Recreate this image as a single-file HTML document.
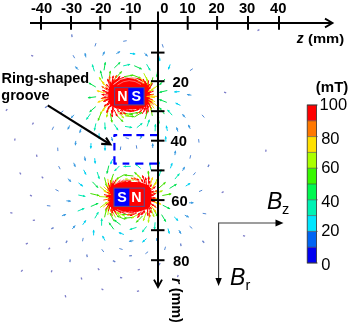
<!DOCTYPE html>
<html><head><meta charset="utf-8"><style>
html,body{margin:0;padding:0;background:#fff;}
body{width:350px;height:325px;overflow:hidden;font-family:"Liberation Sans",sans-serif;}
svg{display:block;will-change:transform;}
</style></head><body>
<svg width="350" height="325" viewBox="0 0 350 325">
<path d="M149.6,96.0 L149.6,98.1 L149.5,99.3 L149.3,100.4 L149.1,101.3 L148.8,102.2 L148.5,103.0 L148.1,103.7 L147.7,104.4 L147.1,105.0 L146.6,105.6 L145.9,106.1 L145.2,106.6 L144.5,107.1 L143.6,107.5 L142.7,107.9 L141.8,108.2 L140.7,108.5 L139.6,108.8 L138.4,109.0 L137.1,109.2 L135.7,109.3 L134.1,109.4 L132.1,109.5 L129.0,109.5 L125.8,109.5 L123.9,109.4 L122.3,109.3 L120.8,109.2 L119.5,109.0 L118.3,108.8 L117.1,108.5 L116.1,108.2 L115.1,107.9 L114.2,107.5 L113.4,107.1 L112.6,106.6 L111.9,106.1 L111.3,105.6 L110.7,105.0 L110.2,104.4 L109.7,103.7 L109.3,103.0 L109.0,102.2 L108.7,101.3 L108.5,100.4 L108.3,99.3 L108.2,98.1 L108.2,96.0 L108.2,93.2 L108.3,91.5 L108.5,90.0 L108.7,88.8 L109.0,87.6 L109.3,86.5 L109.7,85.5 L110.2,84.6 L110.7,83.7 L111.3,82.9 L111.9,82.2 L112.6,81.5 L113.4,80.9 L114.2,80.3 L115.1,79.8 L116.1,79.3 L117.1,78.9 L118.3,78.6 L119.5,78.3 L120.8,78.0 L122.3,77.8 L123.9,77.7 L125.8,77.6 L129.0,77.6 L132.1,77.6 L134.1,77.7 L135.7,77.8 L137.1,78.0 L138.4,78.3 L139.6,78.6 L140.7,78.9 L141.8,79.3 L142.7,79.8 L143.6,80.3 L144.5,80.9 L145.2,81.5 L145.9,82.2 L146.6,82.9 L147.1,83.7 L147.7,84.6 L148.1,85.5 L148.5,86.5 L148.8,87.6 L149.1,88.8 L149.3,90.0 L149.5,91.5 L149.6,93.2Z" fill="#ff0000"/>
<path d="M151.4,197.0 L151.4,199.9 L151.3,201.4 L151.2,202.5 L151.0,203.5 L150.7,204.4 L150.4,205.2 L150.1,206.0 L149.7,206.6 L149.2,207.3 L148.7,207.8 L148.1,208.3 L147.5,208.8 L146.7,209.3 L146.0,209.7 L145.1,210.0 L144.2,210.3 L143.2,210.6 L142.2,210.8 L141.0,211.0 L139.7,211.2 L138.2,211.3 L136.5,211.4 L134.3,211.5 L130.0,211.5 L125.7,211.5 L123.5,211.4 L121.8,211.3 L120.3,211.2 L119.0,211.0 L117.8,210.8 L116.8,210.6 L115.8,210.3 L114.9,210.0 L114.0,209.7 L113.3,209.3 L112.5,208.8 L111.9,208.3 L111.3,207.8 L110.8,207.3 L110.3,206.6 L109.9,206.0 L109.6,205.2 L109.3,204.4 L109.0,203.5 L108.8,202.5 L108.7,201.4 L108.6,199.9 L108.6,197.0 L108.6,194.0 L108.7,192.5 L108.8,191.3 L109.0,190.2 L109.3,189.3 L109.6,188.5 L109.9,187.7 L110.3,187.0 L110.8,186.4 L111.3,185.8 L111.9,185.3 L112.5,184.8 L113.3,184.3 L114.0,183.9 L114.9,183.5 L115.8,183.2 L116.8,182.9 L117.8,182.7 L119.0,182.5 L120.3,182.3 L121.8,182.2 L123.5,182.1 L125.7,182.0 L130.0,182.0 L134.3,182.0 L136.5,182.1 L138.2,182.2 L139.7,182.3 L141.0,182.5 L142.2,182.7 L143.2,182.9 L144.2,183.2 L145.1,183.5 L146.0,183.9 L146.7,184.3 L147.5,184.8 L148.1,185.3 L148.7,185.8 L149.2,186.4 L149.7,187.0 L150.1,187.7 L150.4,188.5 L150.7,189.3 L151.0,190.2 L151.2,191.3 L151.3,192.5 L151.4,194.0Z" fill="#ff0000"/>
<line x1="259.4" y1="29.7" x2="257.5" y2="30.7" stroke="#7c7cc8" stroke-width="1.3"/>
<line x1="265.8" y1="151.8" x2="266.0" y2="149.6" stroke="#7c7cc8" stroke-width="1.3"/>
<line x1="21.1" y1="271.6" x2="22.6" y2="270.0" stroke="#7c7cc8" stroke-width="1.3"/>
<line x1="7.3" y1="109.1" x2="5.9" y2="110.7" stroke="#7c7cc8" stroke-width="1.3"/>
<line x1="15.0" y1="138.5" x2="14.7" y2="140.7" stroke="#7c7cc8" stroke-width="1.3"/>
<line x1="243.0" y1="235.7" x2="245.1" y2="236.2" stroke="#7c7cc8" stroke-width="1.3"/>
<line x1="10.3" y1="212.7" x2="12.4" y2="213.2" stroke="#7c7cc8" stroke-width="1.3"/>
<line x1="65.8" y1="297.4" x2="65.2" y2="295.2" stroke="#7c7cc8" stroke-width="1.3"/>
<line x1="25.8" y1="244.2" x2="27.8" y2="243.2" stroke="#7c7cc8" stroke-width="1.3"/>
<line x1="19.7" y1="172.5" x2="20.9" y2="174.4" stroke="#7c7cc8" stroke-width="1.3"/>
<line x1="51.3" y1="272.3" x2="52.0" y2="270.2" stroke="#7c7cc8" stroke-width="1.3"/>
<line x1="33.2" y1="56.2" x2="31.2" y2="55.3" stroke="#7c7cc8" stroke-width="1.3"/>
<line x1="139.1" y1="290.8" x2="136.9" y2="291.3" stroke="#7c7cc8" stroke-width="1.3"/>
<line x1="103.3" y1="290.0" x2="101.5" y2="288.7" stroke="#7c7cc8" stroke-width="1.3"/>
<line x1="36.5" y1="154.7" x2="37.0" y2="156.8" stroke="#7c7cc8" stroke-width="1.3"/>
<line x1="30.0" y1="195.2" x2="31.9" y2="196.2" stroke="#7c7cc8" stroke-width="1.3"/>
<line x1="33.5" y1="122.6" x2="32.4" y2="124.5" stroke="#7c7cc8" stroke-width="1.3"/>
<line x1="32.8" y1="220.3" x2="35.0" y2="220.1" stroke="#7c7cc8" stroke-width="1.3"/>
<line x1="226.2" y1="92.8" x2="224.1" y2="92.1" stroke="#7c7cc8" stroke-width="1.3"/>
<line x1="81.9" y1="279.6" x2="81.1" y2="277.6" stroke="#7c7cc8" stroke-width="1.3"/>
<line x1="221.7" y1="192.7" x2="223.6" y2="191.6" stroke="#7c7cc8" stroke-width="1.3"/>
<line x1="48.5" y1="249.4" x2="50.0" y2="247.8" stroke="#7c7cc8" stroke-width="1.3"/>
<line x1="178.2" y1="275.0" x2="177.5" y2="277.1" stroke="#7c7cc8" stroke-width="1.3"/>
<line x1="41.7" y1="176.6" x2="43.2" y2="178.3" stroke="#7c7cc8" stroke-width="1.3"/>
<line x1="122.2" y1="277.9" x2="120.0" y2="277.5" stroke="#7c7cc8" stroke-width="1.3"/>
<line x1="69.9" y1="262.1" x2="70.2" y2="259.4" stroke="#6680cc" stroke-width="1.3"/>
<line x1="57.7" y1="147.6" x2="57.9" y2="151.1" stroke="#5288d6" stroke-width="1.0"/>
<line x1="202.4" y1="240.7" x2="204.2" y2="242.7" stroke="#6680cc" stroke-width="1.3"/>
<line x1="47.2" y1="106.2" x2="45.0" y2="107.8" stroke="#6680cc" stroke-width="1.3"/>
<line x1="207.9" y1="167.0" x2="209.1" y2="164.6" stroke="#6680cc" stroke-width="1.3"/>
<line x1="72.1" y1="37.1" x2="71.7" y2="34.4" stroke="#6680cc" stroke-width="1.3"/>
<line x1="46.9" y1="205.6" x2="50.4" y2="206.0" stroke="#5288d6" stroke-width="1.0"/>
<line x1="199.0" y1="142.6" x2="198.6" y2="139.1" stroke="#5288d6" stroke-width="1.0"/>
<line x1="51.3" y1="228.9" x2="53.6" y2="227.6" stroke="#6680cc" stroke-width="1.3"/>
<line x1="53.6" y1="126.7" x2="52.1" y2="129.9" stroke="#5288d6" stroke-width="1.0"/>
<line x1="99.3" y1="270.0" x2="97.9" y2="268.3" stroke="#7c7cc8" stroke-width="1.3"/>
<line x1="139.8" y1="269.3" x2="137.7" y2="270.0" stroke="#7c7cc8" stroke-width="1.3"/>
<line x1="204.3" y1="117.5" x2="202.0" y2="114.8" stroke="#5288d6" stroke-width="1.0"/>
<line x1="202.7" y1="213.3" x2="206.2" y2="213.9" stroke="#5288d6" stroke-width="1.0"/>
<line x1="65.9" y1="242.9" x2="67.2" y2="240.6" stroke="#6680cc" stroke-width="1.3"/>
<line x1="160.2" y1="263.2" x2="158.6" y2="265.3" stroke="#6680cc" stroke-width="1.3"/>
<line x1="58.6" y1="166.1" x2="60.2" y2="169.2" stroke="#5288d6" stroke-width="1.0"/>
<line x1="55.5" y1="189.5" x2="58.6" y2="191.1" stroke="#5288d6" stroke-width="1.0"/>
<line x1="87.3" y1="257.1" x2="86.7" y2="254.5" stroke="#6680cc" stroke-width="1.3"/>
<line x1="199.0" y1="191.6" x2="202.2" y2="190.2" stroke="#5288d6" stroke-width="1.0"/>
<line x1="115.3" y1="261.9" x2="112.9" y2="260.6" stroke="#6680cc" stroke-width="1.3"/>
<line x1="189.9" y1="158.6" x2="190.7" y2="155.2" stroke="#5288d6" stroke-width="1.0"/>
<line x1="75.8" y1="140.9" x2="75.4" y2="145.1" stroke="#3a9ae0" stroke-width="1.0"/>
<path d="M75.3,145.7L74.4,142.8L76.8,143.0Z" fill="#3a9ae0"/>
<line x1="180.5" y1="243.5" x2="181.1" y2="246.1" stroke="#6680cc" stroke-width="1.3"/>
<line x1="63.3" y1="110.8" x2="60.6" y2="113.0" stroke="#5288d6" stroke-width="1.0"/>
<line x1="61.9" y1="215.8" x2="65.8" y2="214.5" stroke="#3a9ae0" stroke-width="1.0"/>
<path d="M66.4,214.3L64.1,216.3L63.4,214.0Z" fill="#3a9ae0"/>
<line x1="193.3" y1="175.1" x2="195.5" y2="172.4" stroke="#5288d6" stroke-width="1.0"/>
<line x1="192.8" y1="68.7" x2="189.9" y2="70.7" stroke="#5288d6" stroke-width="1.0"/>
<line x1="190.2" y1="128.8" x2="188.5" y2="125.0" stroke="#3a9ae0" stroke-width="1.0"/>
<path d="M188.2,124.5L190.5,126.5L188.3,127.5Z" fill="#3a9ae0"/>
<line x1="189.6" y1="226.2" x2="192.3" y2="228.5" stroke="#5288d6" stroke-width="1.0"/>
<line x1="74.7" y1="58.2" x2="73.0" y2="55.2" stroke="#5288d6" stroke-width="1.0"/>
<line x1="69.7" y1="125.4" x2="67.9" y2="129.2" stroke="#3a9ae0" stroke-width="1.0"/>
<path d="M67.6,129.7L67.8,126.7L69.9,127.7Z" fill="#3a9ae0"/>
<line x1="131.9" y1="255.7" x2="129.2" y2="255.9" stroke="#6680cc" stroke-width="1.3"/>
<line x1="73.7" y1="162.8" x2="75.2" y2="166.7" stroke="#3a9ae0" stroke-width="1.0"/>
<path d="M75.5,167.2L73.3,165.0L75.5,164.2Z" fill="#3a9ae0"/>
<line x1="123.2" y1="41.3" x2="126.7" y2="40.7" stroke="#5288d6" stroke-width="1.0"/>
<line x1="165.5" y1="246.7" x2="164.6" y2="250.0" stroke="#5288d6" stroke-width="1.0"/>
<line x1="66.4" y1="200.8" x2="70.6" y2="201.2" stroke="#3a9ae0" stroke-width="1.0"/>
<path d="M71.2,201.2L68.3,202.2L68.5,199.8Z" fill="#3a9ae0"/>
<line x1="94.9" y1="46.4" x2="96.0" y2="43.1" stroke="#5288d6" stroke-width="1.0"/>
<line x1="72.3" y1="228.9" x2="75.1" y2="225.7" stroke="#3a9ae0" stroke-width="1.0"/>
<path d="M75.5,225.3L74.5,228.2L72.7,226.6Z" fill="#3a9ae0"/>
<line x1="91.0" y1="143.1" x2="90.8" y2="148.3" stroke="#00d0f0" stroke-width="1.0"/>
<path d="M90.8,148.9L89.7,146.0L92.1,146.1Z" fill="#00d0f0"/>
<line x1="162.2" y1="44.2" x2="163.3" y2="47.5" stroke="#5288d6" stroke-width="1.0"/>
<line x1="82.5" y1="241.3" x2="83.2" y2="237.9" stroke="#5288d6" stroke-width="1.0"/>
<line x1="191.4" y1="95.2" x2="187.2" y2="94.5" stroke="#3a9ae0" stroke-width="1.0"/>
<path d="M186.7,94.4L189.6,93.7L189.2,96.1Z" fill="#3a9ae0"/>
<line x1="189.1" y1="202.8" x2="193.3" y2="202.8" stroke="#3a9ae0" stroke-width="1.0"/>
<path d="M193.9,202.8L191.1,204.0L191.1,201.6Z" fill="#3a9ae0"/>
<line x1="103.8" y1="252.0" x2="101.7" y2="249.2" stroke="#5288d6" stroke-width="1.0"/>
<line x1="174.9" y1="155.1" x2="175.4" y2="150.9" stroke="#3a9ae0" stroke-width="1.0"/>
<path d="M175.5,150.3L176.3,153.3L174.0,153.0Z" fill="#3a9ae0"/>
<line x1="67.8" y1="178.6" x2="70.8" y2="181.5" stroke="#3a9ae0" stroke-width="1.0"/>
<path d="M71.3,181.9L68.4,180.9L70.1,179.1Z" fill="#3a9ae0"/>
<line x1="148.1" y1="251.7" x2="145.4" y2="253.8" stroke="#5288d6" stroke-width="1.0"/>
<line x1="182.5" y1="170.8" x2="184.5" y2="167.2" stroke="#3a9ae0" stroke-width="1.0"/>
<path d="M184.8,166.6L184.5,169.7L182.4,168.5Z" fill="#3a9ae0"/>
<line x1="178.8" y1="230.0" x2="180.9" y2="233.6" stroke="#3a9ae0" stroke-width="1.0"/>
<path d="M181.2,234.1L178.7,232.3L180.8,231.1Z" fill="#3a9ae0"/>
<line x1="185.7" y1="186.1" x2="190.1" y2="183.3" stroke="#00d0f0" stroke-width="1.0"/>
<path d="M190.6,183.0L188.9,185.5L187.6,183.5Z" fill="#00d0f0"/>
<line x1="122.6" y1="249.5" x2="119.3" y2="248.5" stroke="#5288d6" stroke-width="1.0"/>
<line x1="184.8" y1="215.2" x2="188.6" y2="217.1" stroke="#3a9ae0" stroke-width="1.0"/>
<path d="M189.1,217.3L186.1,217.2L187.2,215.0Z" fill="#3a9ae0"/>
<line x1="74.0" y1="114.8" x2="71.2" y2="117.9" stroke="#3a9ae0" stroke-width="1.0"/>
<path d="M70.8,118.3L71.8,115.5L73.5,117.1Z" fill="#3a9ae0"/>
<line x1="85.9" y1="57.4" x2="85.1" y2="53.3" stroke="#3a9ae0" stroke-width="1.0"/>
<path d="M84.9,52.7L86.7,55.2L84.3,55.7Z" fill="#3a9ae0"/>
<line x1="105.0" y1="145.2" x2="105.0" y2="150.4" stroke="#00d0f0" stroke-width="1.0"/>
<path d="M105.0,151.0L103.8,148.1L106.2,148.2Z" fill="#00d0f0"/>
<line x1="152.7" y1="147.9" x2="152.7" y2="143.7" stroke="#3a9ae0" stroke-width="1.0"/>
<path d="M152.7,143.1L153.9,145.9L151.5,145.9Z" fill="#3a9ae0"/>
<line x1="185.3" y1="117.6" x2="182.6" y2="114.4" stroke="#3a9ae0" stroke-width="1.0"/>
<path d="M182.2,114.0L184.9,115.3L183.1,116.9Z" fill="#3a9ae0"/>
<line x1="177.9" y1="131.6" x2="176.6" y2="127.6" stroke="#3a9ae0" stroke-width="1.0"/>
<path d="M176.5,127.0L178.5,129.3L176.2,130.1Z" fill="#3a9ae0"/>
<line x1="84.6" y1="156.5" x2="85.3" y2="160.7" stroke="#3a9ae0" stroke-width="1.0"/>
<path d="M85.4,161.3L83.7,158.7L86.1,158.3Z" fill="#3a9ae0"/>
<line x1="81.1" y1="128.7" x2="79.8" y2="132.7" stroke="#3a9ae0" stroke-width="1.0"/>
<path d="M79.6,133.2L79.3,130.2L81.6,131.0Z" fill="#3a9ae0"/>
<line x1="165.9" y1="141.7" x2="165.6" y2="136.5" stroke="#00d0f0" stroke-width="1.0"/>
<path d="M165.6,135.9L167.0,138.6L164.6,138.8Z" fill="#00d0f0"/>
<line x1="78.3" y1="69.8" x2="75.5" y2="66.7" stroke="#3a9ae0" stroke-width="1.0"/>
<path d="M75.1,66.3L77.8,67.5L76.1,69.2Z" fill="#3a9ae0"/>
<line x1="120.8" y1="146.5" x2="120.3" y2="150.0" stroke="#5288d6" stroke-width="1.0"/>
<line x1="136.8" y1="148.7" x2="136.3" y2="145.3" stroke="#5288d6" stroke-width="1.0"/>
<line x1="180.4" y1="105.4" x2="175.7" y2="103.1" stroke="#00d0f0" stroke-width="1.0"/>
<path d="M175.2,102.8L178.2,103.0L177.1,105.1Z" fill="#00d0f0"/>
<line x1="102.7" y1="55.6" x2="104.4" y2="51.8" stroke="#3a9ae0" stroke-width="1.0"/>
<path d="M104.7,51.2L104.6,54.3L102.4,53.3Z" fill="#3a9ae0"/>
<line x1="82.7" y1="224.8" x2="85.8" y2="220.5" stroke="#00d0f0" stroke-width="1.0"/>
<path d="M86.1,220.1L85.4,223.0L83.5,221.6Z" fill="#00d0f0"/>
<line x1="77.7" y1="211.1" x2="84.2" y2="208.4" stroke="#00e8b0" stroke-width="1.0"/>
<path d="M84.7,208.2L82.6,210.4L81.7,208.1Z" fill="#00e8b0"/>
<line x1="133.4" y1="240.7" x2="129.2" y2="241.3" stroke="#3a9ae0" stroke-width="1.0"/>
<path d="M128.6,241.4L131.2,239.8L131.6,242.2Z" fill="#3a9ae0"/>
<line x1="78.5" y1="182.9" x2="82.7" y2="186.1" stroke="#00d0f0" stroke-width="1.0"/>
<path d="M83.2,186.4L80.2,185.7L81.7,183.8Z" fill="#00d0f0"/>
<line x1="116.3" y1="53.7" x2="119.9" y2="51.6" stroke="#3a9ae0" stroke-width="1.0"/>
<path d="M120.4,51.3L118.6,53.7L117.4,51.7Z" fill="#3a9ae0"/>
<line x1="105.0" y1="240.6" x2="102.6" y2="236.0" stroke="#00d0f0" stroke-width="1.0"/>
<path d="M102.3,235.5L104.7,237.4L102.6,238.5Z" fill="#00d0f0"/>
<line x1="94.7" y1="158.2" x2="95.2" y2="163.3" stroke="#00d0f0" stroke-width="1.0"/>
<path d="M95.2,163.9L93.8,161.3L96.2,161.1Z" fill="#00d0f0"/>
<line x1="170.4" y1="168.3" x2="172.1" y2="163.3" stroke="#00d0f0" stroke-width="1.0"/>
<path d="M172.3,162.8L172.5,165.8L170.3,165.0Z" fill="#00d0f0"/>
<line x1="83.6" y1="169.8" x2="86.0" y2="174.4" stroke="#00d0f0" stroke-width="1.0"/>
<path d="M86.2,174.9L83.9,173.0L86.0,171.9Z" fill="#00d0f0"/>
<line x1="93.6" y1="235.4" x2="93.7" y2="230.2" stroke="#00d0f0" stroke-width="1.0"/>
<path d="M93.7,229.6L94.8,232.4L92.4,232.3Z" fill="#00d0f0"/>
<line x1="157.8" y1="236.6" x2="156.5" y2="240.6" stroke="#3a9ae0" stroke-width="1.0"/>
<path d="M156.3,241.1L156.0,238.1L158.3,238.9Z" fill="#3a9ae0"/>
<line x1="179.6" y1="91.6" x2="174.4" y2="91.9" stroke="#00d0f0" stroke-width="1.0"/>
<path d="M173.8,91.9L176.5,90.6L176.7,93.0Z" fill="#00d0f0"/>
<line x1="129.9" y1="53.4" x2="135.1" y2="54.0" stroke="#00d0f0" stroke-width="1.0"/>
<path d="M135.7,54.0L132.8,54.9L133.0,52.5Z" fill="#00d0f0"/>
<line x1="168.0" y1="228.5" x2="169.3" y2="233.5" stroke="#00d0f0" stroke-width="1.0"/>
<path d="M169.4,234.1L167.6,231.7L169.9,231.1Z" fill="#00d0f0"/>
<line x1="158.7" y1="55.7" x2="159.9" y2="60.8" stroke="#00d0f0" stroke-width="1.0"/>
<path d="M160.0,61.4L158.2,58.9L160.5,58.4Z" fill="#00d0f0"/>
<line x1="99.1" y1="133.3" x2="99.0" y2="138.5" stroke="#00d0f0" stroke-width="1.0"/>
<path d="M99.0,139.1L97.9,136.3L100.3,136.3Z" fill="#00d0f0"/>
<line x1="174.9" y1="179.1" x2="179.3" y2="173.7" stroke="#00e8b0" stroke-width="1.0"/>
<path d="M179.7,173.3L178.9,176.2L177.0,174.7Z" fill="#00e8b0"/>
<line x1="167.4" y1="130.9" x2="166.3" y2="125.8" stroke="#00d0f0" stroke-width="1.0"/>
<path d="M166.1,125.3L167.9,127.7L165.6,128.2Z" fill="#00d0f0"/>
<line x1="78.3" y1="195.0" x2="85.2" y2="196.4" stroke="#00e8b0" stroke-width="1.0"/>
<path d="M85.8,196.5L82.8,197.1L83.2,194.8Z" fill="#00e8b0"/>
<line x1="170.2" y1="64.4" x2="168.4" y2="69.2" stroke="#00d0f0" stroke-width="1.0"/>
<path d="M168.2,69.8L168.0,66.8L170.3,67.6Z" fill="#00d0f0"/>
<line x1="144.4" y1="53.2" x2="147.5" y2="56.0" stroke="#3a9ae0" stroke-width="1.0"/>
<path d="M147.9,56.4L145.0,55.4L146.6,53.6Z" fill="#3a9ae0"/>
<line x1="111.5" y1="137.0" x2="112.6" y2="141.0" stroke="#3a9ae0" stroke-width="1.0"/>
<path d="M112.7,141.6L110.8,139.2L113.2,138.6Z" fill="#3a9ae0"/>
<line x1="146.5" y1="238.6" x2="142.6" y2="242.1" stroke="#00d0f0" stroke-width="1.0"/>
<path d="M142.1,242.5L143.4,239.7L145.0,241.5Z" fill="#00d0f0"/>
<line x1="125.6" y1="137.7" x2="128.9" y2="138.8" stroke="#5288d6" stroke-width="1.0"/>
<line x1="174.2" y1="216.9" x2="178.0" y2="220.5" stroke="#00d0f0" stroke-width="1.0"/>
<path d="M178.4,220.9L175.6,219.9L177.2,218.1Z" fill="#00d0f0"/>
<line x1="140.0" y1="139.1" x2="142.0" y2="135.4" stroke="#3a9ae0" stroke-width="1.0"/>
<path d="M142.3,134.9L142.0,137.9L139.9,136.7Z" fill="#3a9ae0"/>
<line x1="172.2" y1="115.2" x2="167.6" y2="110.0" stroke="#00e8b0" stroke-width="1.0"/>
<path d="M167.2,109.5L170.0,110.8L168.2,112.4Z" fill="#00e8b0"/>
<line x1="95.9" y1="123.4" x2="94.4" y2="130.3" stroke="#00e8b0" stroke-width="1.0"/>
<path d="M94.3,130.9L93.7,127.9L96.1,128.4Z" fill="#00e8b0"/>
<line x1="123.9" y1="234.5" x2="119.0" y2="232.7" stroke="#00d0f0" stroke-width="1.0"/>
<path d="M118.4,232.5L121.4,232.3L120.6,234.6Z" fill="#00d0f0"/>
<line x1="112.6" y1="159.2" x2="110.6" y2="164.0" stroke="#00d0f0" stroke-width="1.0"/>
<path d="M110.4,164.6L110.3,161.6L112.5,162.5Z" fill="#00d0f0"/>
<line x1="94.4" y1="71.3" x2="92.3" y2="64.7" stroke="#00e8b0" stroke-width="1.0"/>
<path d="M92.1,64.1L94.1,66.4L91.8,67.1Z" fill="#00e8b0"/>
<line x1="169.6" y1="188.4" x2="176.4" y2="184.2" stroke="#00e050" stroke-width="1.0"/>
<path d="M176.9,183.9L175.2,186.4L173.9,184.4Z" fill="#00e050"/>
<line x1="90.5" y1="113.7" x2="86.4" y2="119.4" stroke="#00e8b0" stroke-width="1.0"/>
<path d="M86.1,119.9L86.8,116.9L88.7,118.3Z" fill="#00e8b0"/>
<line x1="158.7" y1="167.0" x2="159.1" y2="161.9" stroke="#00d0f0" stroke-width="1.0"/>
<path d="M159.1,161.3L160.1,164.1L157.7,164.0Z" fill="#00d0f0"/>
<line x1="155.1" y1="131.3" x2="155.4" y2="124.4" stroke="#00e8b0" stroke-width="1.0"/>
<path d="M155.4,123.8L156.5,126.6L154.1,126.5Z" fill="#00e8b0"/>
<line x1="123.2" y1="65.9" x2="130.0" y2="64.3" stroke="#00e8b0" stroke-width="1.0"/>
<path d="M130.6,64.2L128.1,66.0L127.6,63.7Z" fill="#00e8b0"/>
<line x1="159.4" y1="123.4" x2="157.7" y2="115.6" stroke="#00e050" stroke-width="1.0"/>
<path d="M157.6,115.0L159.4,117.5L157.0,118.0Z" fill="#00e050"/>
<line x1="104.0" y1="70.3" x2="105.3" y2="62.4" stroke="#00e050" stroke-width="1.0"/>
<path d="M105.4,61.8L106.1,64.8L103.8,64.4Z" fill="#00e050"/>
<line x1="125.0" y1="126.4" x2="131.9" y2="127.5" stroke="#00e8b0" stroke-width="1.0"/>
<path d="M132.5,127.6L129.5,128.4L129.9,126.0Z" fill="#00e8b0"/>
<line x1="104.8" y1="122.5" x2="105.2" y2="129.5" stroke="#00e8b0" stroke-width="1.0"/>
<path d="M105.3,130.1L103.9,127.3L106.3,127.2Z" fill="#00e8b0"/>
<line x1="130.7" y1="166.3" x2="123.7" y2="166.5" stroke="#00e8b0" stroke-width="1.0"/>
<path d="M123.1,166.5L125.9,165.2L126.0,167.6Z" fill="#00e8b0"/>
<line x1="146.6" y1="226.4" x2="142.3" y2="231.9" stroke="#00e8b0" stroke-width="1.0"/>
<path d="M141.9,232.4L142.7,229.4L144.6,230.9Z" fill="#00e8b0"/>
<line x1="146.6" y1="64.2" x2="150.1" y2="70.3" stroke="#00e8b0" stroke-width="1.0"/>
<path d="M150.4,70.8L148.0,69.0L150.0,67.8Z" fill="#00e8b0"/>
<line x1="136.5" y1="227.4" x2="129.8" y2="229.5" stroke="#00e8b0" stroke-width="1.0"/>
<path d="M129.3,229.7L131.6,227.7L132.3,230.0Z" fill="#00e8b0"/>
<line x1="136.8" y1="127.7" x2="142.2" y2="123.3" stroke="#00e8b0" stroke-width="1.0"/>
<path d="M142.7,122.9L141.3,125.6L139.7,123.7Z" fill="#00e8b0"/>
<line x1="97.2" y1="172.0" x2="99.3" y2="178.7" stroke="#00e8b0" stroke-width="1.0"/>
<path d="M99.4,179.3L97.5,177.0L99.8,176.3Z" fill="#00e8b0"/>
<line x1="161.6" y1="214.6" x2="165.7" y2="221.5" stroke="#00e050" stroke-width="1.0"/>
<path d="M166.0,222.0L163.5,220.2L165.6,219.0Z" fill="#00e050"/>
<line x1="114.3" y1="67.9" x2="120.1" y2="62.4" stroke="#00e050" stroke-width="1.0"/>
<path d="M120.5,62.0L119.3,64.8L117.7,63.0Z" fill="#00e050"/>
<line x1="101.6" y1="225.7" x2="101.7" y2="218.7" stroke="#00e8b0" stroke-width="1.0"/>
<path d="M101.7,218.1L102.9,220.9L100.5,220.9Z" fill="#00e8b0"/>
<line x1="114.1" y1="124.3" x2="118.0" y2="130.1" stroke="#00e8b0" stroke-width="1.0"/>
<path d="M118.3,130.6L115.8,128.9L117.8,127.6Z" fill="#00e8b0"/>
<line x1="151.0" y1="170.1" x2="149.6" y2="163.2" stroke="#00e8b0" stroke-width="1.0"/>
<path d="M149.5,162.6L151.2,165.1L148.9,165.6Z" fill="#00e8b0"/>
<line x1="113.8" y1="229.3" x2="109.1" y2="222.8" stroke="#00e050" stroke-width="1.0"/>
<path d="M108.7,222.3L111.3,223.9L109.4,225.3Z" fill="#00e050"/>
<line x1="140.7" y1="168.5" x2="135.4" y2="163.9" stroke="#00e8b0" stroke-width="1.0"/>
<path d="M135.0,163.5L137.9,164.4L136.3,166.2Z" fill="#00e8b0"/>
<line x1="108.8" y1="165.6" x2="107.0" y2="173.4" stroke="#00e050" stroke-width="1.0"/>
<path d="M106.8,173.9L106.3,170.9L108.6,171.5Z" fill="#00e050"/>
<line x1="155.1" y1="222.3" x2="154.5" y2="229.3" stroke="#00e8b0" stroke-width="1.0"/>
<path d="M154.4,229.9L153.5,227.0L155.9,227.2Z" fill="#00e8b0"/>
<line x1="157.7" y1="68.9" x2="156.9" y2="76.9" stroke="#00e050" stroke-width="1.0"/>
<path d="M156.8,77.5L155.9,74.6L158.3,74.8Z" fill="#00e050"/>
<line x1="90.8" y1="206.5" x2="98.1" y2="203.3" stroke="#00e050" stroke-width="1.0"/>
<path d="M98.7,203.0L96.6,205.2L95.7,203.0Z" fill="#00e050"/>
<line x1="167.3" y1="90.5" x2="159.5" y2="92.3" stroke="#00e050" stroke-width="1.0"/>
<path d="M158.9,92.5L161.4,90.7L161.9,93.0Z" fill="#00e050"/>
<line x1="90.4" y1="193.5" x2="99.2" y2="195.6" stroke="#40e000" stroke-width="1.0"/>
<path d="M99.8,195.7L96.8,196.3L97.3,193.9Z" fill="#40e000"/>
<line x1="159.1" y1="176.2" x2="161.1" y2="169.5" stroke="#00e8b0" stroke-width="1.0"/>
<path d="M161.3,168.9L161.6,172.0L159.3,171.3Z" fill="#00e8b0"/>
<line x1="119.5" y1="165.9" x2="114.6" y2="170.9" stroke="#00e8b0" stroke-width="1.0"/>
<path d="M114.2,171.3L115.3,168.5L117.0,170.1Z" fill="#00e8b0"/>
<line x1="94.8" y1="218.3" x2="98.3" y2="212.3" stroke="#00e8b0" stroke-width="1.0"/>
<path d="M98.6,211.8L98.2,214.8L96.1,213.6Z" fill="#00e8b0"/>
<line x1="134.2" y1="65.7" x2="141.5" y2="69.0" stroke="#00e050" stroke-width="1.0"/>
<path d="M142.1,69.3L139.0,69.2L140.0,67.0Z" fill="#00e050"/>
<line x1="95.8" y1="87.0" x2="88.9" y2="83.0" stroke="#00e050" stroke-width="1.0"/>
<path d="M88.4,82.7L91.4,83.1L90.2,85.1Z" fill="#00e050"/>
<line x1="95.8" y1="106.6" x2="89.7" y2="111.8" stroke="#00e050" stroke-width="1.0"/>
<path d="M89.3,112.2L90.6,109.5L92.2,111.3Z" fill="#00e050"/>
<line x1="162.3" y1="195.5" x2="171.1" y2="193.9" stroke="#40e000" stroke-width="1.0"/>
<path d="M171.7,193.8L169.2,195.5L168.7,193.1Z" fill="#40e000"/>
<line x1="96.1" y1="96.8" x2="88.2" y2="97.8" stroke="#00e050" stroke-width="1.0"/>
<path d="M87.6,97.8L90.2,96.3L90.5,98.7Z" fill="#00e050"/>
<line x1="162.7" y1="205.2" x2="169.8" y2="208.8" stroke="#00e050" stroke-width="1.0"/>
<path d="M170.4,209.1L167.3,208.9L168.4,206.7Z" fill="#00e050"/>
<line x1="166.8" y1="102.4" x2="159.4" y2="99.5" stroke="#00e050" stroke-width="1.0"/>
<path d="M158.8,99.3L161.9,99.2L161.0,101.4Z" fill="#00e050"/>
<line x1="165.0" y1="79.0" x2="159.6" y2="84.9" stroke="#00e050" stroke-width="1.0"/>
<path d="M159.2,85.3L160.2,82.4L162.0,84.1Z" fill="#00e050"/>
<line x1="92.4" y1="181.8" x2="97.9" y2="187.6" stroke="#00e050" stroke-width="1.0"/>
<path d="M98.3,188.0L95.5,186.8L97.3,185.2Z" fill="#00e050"/>
<line x1="164.4" y1="114.1" x2="159.6" y2="107.7" stroke="#00e050" stroke-width="1.0"/>
<path d="M159.2,107.2L161.9,108.7L159.9,110.1Z" fill="#00e050"/>
<line x1="147.1" y1="126.5" x2="149.3" y2="119.8" stroke="#00e8b0" stroke-width="1.0"/>
<path d="M149.5,119.3L149.8,122.3L147.5,121.5Z" fill="#00e8b0"/>
<line x1="120.6" y1="224.8" x2="114.2" y2="220.0" stroke="#00e050" stroke-width="1.0"/>
<path d="M113.7,219.6L116.6,220.3L115.2,222.2Z" fill="#00e050"/>
<line x1="101.5" y1="112.1" x2="98.1" y2="120.4" stroke="#40e000" stroke-width="1.0"/>
<path d="M97.9,121.0L97.8,118.0L100.0,118.9Z" fill="#40e000"/>
<line x1="102.5" y1="78.5" x2="100.4" y2="70.8" stroke="#00e050" stroke-width="1.0"/>
<path d="M100.2,70.2L102.1,72.6L99.8,73.2Z" fill="#00e050"/>
<line x1="158.6" y1="188.3" x2="165.4" y2="182.4" stroke="#40e000" stroke-width="1.0"/>
<path d="M165.9,182.0L164.6,184.8L163.0,183.0Z" fill="#40e000"/>
<line x1="104.1" y1="85.0" x2="99.3" y2="77.4" stroke="#b4f000" stroke-width="1.0"/>
<path d="M98.9,76.9L101.5,78.6L99.5,79.9Z" fill="#b4f000"/>
<line x1="114.1" y1="221.3" x2="110.0" y2="213.2" stroke="#40e000" stroke-width="1.0"/>
<path d="M109.8,212.7L112.1,214.6L110.0,215.7Z" fill="#40e000"/>
<line x1="133.4" y1="176.0" x2="124.4" y2="175.0" stroke="#40e000" stroke-width="1.0"/>
<path d="M123.8,174.9L126.8,174.1L126.5,176.4Z" fill="#40e000"/>
<line x1="116.6" y1="115.2" x2="122.9" y2="121.6" stroke="#40e000" stroke-width="1.0"/>
<path d="M123.3,122.1L120.5,120.9L122.2,119.2Z" fill="#40e000"/>
<line x1="154.0" y1="193.9" x2="162.5" y2="190.8" stroke="#b4f000" stroke-width="1.0"/>
<path d="M163.0,190.6L160.8,192.7L160.0,190.4Z" fill="#b4f000"/>
<line x1="99.0" y1="196.5" x2="108.0" y2="197.1" stroke="#b4f000" stroke-width="1.0"/>
<path d="M108.6,197.2L105.7,198.2L105.9,195.8Z" fill="#b4f000"/>
<line x1="124.4" y1="174.6" x2="116.6" y2="179.0" stroke="#40e000" stroke-width="1.0"/>
<path d="M116.1,179.3L117.9,176.9L119.1,179.0Z" fill="#40e000"/>
<line x1="158.8" y1="96.5" x2="150.3" y2="96.1" stroke="#ffd400" stroke-width="1.0"/>
<path d="M149.7,96.1L152.6,95.0L152.5,97.4Z" fill="#ffd400"/>
<line x1="99.8" y1="186.5" x2="106.6" y2="192.3" stroke="#b4f000" stroke-width="1.0"/>
<path d="M107.1,192.7L104.2,191.8L105.7,190.0Z" fill="#b4f000"/>
<line x1="104.6" y1="217.3" x2="106.5" y2="208.5" stroke="#40e000" stroke-width="1.0"/>
<path d="M106.6,207.9L107.2,210.9L104.8,210.4Z" fill="#40e000"/>
<line x1="125.3" y1="219.5" x2="117.0" y2="215.9" stroke="#40e000" stroke-width="1.0"/>
<path d="M116.5,215.6L119.5,215.6L118.6,217.8Z" fill="#40e000"/>
<line x1="104.5" y1="177.4" x2="106.6" y2="186.2" stroke="#40e000" stroke-width="1.0"/>
<path d="M106.8,186.8L104.9,184.3L107.3,183.8Z" fill="#40e000"/>
<line x1="143.8" y1="73.2" x2="147.8" y2="81.3" stroke="#b4f000" stroke-width="1.0"/>
<path d="M148.0,81.8L145.7,79.8L147.9,78.8Z" fill="#b4f000"/>
<line x1="158.0" y1="85.1" x2="151.1" y2="90.9" stroke="#b4f000" stroke-width="1.0"/>
<path d="M150.7,91.3L152.0,88.6L153.6,90.4Z" fill="#b4f000"/>
<line x1="113.5" y1="173.9" x2="110.4" y2="182.4" stroke="#40e000" stroke-width="1.0"/>
<path d="M110.2,182.9L110.0,179.9L112.3,180.7Z" fill="#40e000"/>
<line x1="110.3" y1="113.4" x2="112.0" y2="122.2" stroke="#40e000" stroke-width="1.0"/>
<path d="M112.1,122.8L110.4,120.3L112.8,119.9Z" fill="#40e000"/>
<line x1="149.2" y1="180.1" x2="148.2" y2="171.2" stroke="#40e000" stroke-width="1.0"/>
<path d="M148.2,170.6L149.7,173.2L147.3,173.5Z" fill="#40e000"/>
<line x1="145.1" y1="118.9" x2="147.9" y2="110.4" stroke="#40e000" stroke-width="1.0"/>
<path d="M148.1,109.8L148.3,112.9L146.0,112.1Z" fill="#40e000"/>
<line x1="105.2" y1="93.1" x2="97.0" y2="90.8" stroke="#ffd400" stroke-width="1.0"/>
<path d="M96.4,90.6L99.4,90.3L98.8,92.6Z" fill="#ffd400"/>
<line x1="100.2" y1="207.5" x2="107.3" y2="202.1" stroke="#b4f000" stroke-width="1.0"/>
<path d="M107.8,201.7L106.3,204.3L104.9,202.4Z" fill="#b4f000"/>
<line x1="132.3" y1="74.9" x2="140.7" y2="78.2" stroke="#40e000" stroke-width="1.0"/>
<path d="M141.2,78.4L138.2,78.5L139.0,76.2Z" fill="#40e000"/>
<line x1="142.6" y1="215.9" x2="136.3" y2="222.3" stroke="#40e000" stroke-width="1.0"/>
<path d="M135.8,222.8L137.0,219.9L138.7,221.6Z" fill="#40e000"/>
<line x1="141.2" y1="178.5" x2="134.6" y2="172.5" stroke="#40e000" stroke-width="1.0"/>
<path d="M134.1,172.0L137.0,173.1L135.4,174.8Z" fill="#40e000"/>
<line x1="152.3" y1="115.9" x2="150.7" y2="107.0" stroke="#40e000" stroke-width="1.0"/>
<path d="M150.6,106.4L152.3,109.0L149.9,109.4Z" fill="#40e000"/>
<line x1="153.3" y1="208.7" x2="157.6" y2="216.6" stroke="#40e000" stroke-width="1.0"/>
<path d="M157.9,217.1L155.5,215.3L157.6,214.1Z" fill="#40e000"/>
<line x1="105.1" y1="106.4" x2="100.3" y2="114.0" stroke="#b4f000" stroke-width="1.0"/>
<path d="M99.9,114.5L100.5,111.5L102.5,112.8Z" fill="#b4f000"/>
<line x1="133.2" y1="217.4" x2="124.2" y2="218.2" stroke="#40e000" stroke-width="1.0"/>
<path d="M123.6,218.3L126.3,216.8L126.5,219.2Z" fill="#40e000"/>
<line x1="124.0" y1="76.7" x2="132.9" y2="75.2" stroke="#40e000" stroke-width="1.0"/>
<path d="M133.5,75.1L130.9,76.7L130.5,74.4Z" fill="#40e000"/>
<line x1="115.5" y1="78.2" x2="121.6" y2="71.6" stroke="#40e000" stroke-width="1.0"/>
<path d="M122.0,71.1L121.0,74.0L119.2,72.4Z" fill="#40e000"/>
<line x1="125.2" y1="115.8" x2="134.1" y2="116.7" stroke="#40e000" stroke-width="1.0"/>
<path d="M134.7,116.7L131.8,117.6L132.1,115.2Z" fill="#40e000"/>
<line x1="109.2" y1="80.0" x2="110.3" y2="71.1" stroke="#40e000" stroke-width="1.0"/>
<path d="M110.4,70.5L111.2,73.4L108.9,73.1Z" fill="#40e000"/>
<line x1="152.9" y1="77.3" x2="150.9" y2="86.0" stroke="#40e000" stroke-width="1.0"/>
<path d="M150.7,86.6L150.2,83.6L152.5,84.2Z" fill="#40e000"/>
<line x1="153.0" y1="201.2" x2="161.0" y2="204.2" stroke="#ffd400" stroke-width="1.0"/>
<path d="M161.5,204.4L158.5,204.5L159.3,202.3Z" fill="#ffd400"/>
<line x1="157.1" y1="106.0" x2="150.5" y2="100.6" stroke="#ffd400" stroke-width="1.0"/>
<path d="M150.1,100.3L153.0,101.1L151.5,103.0Z" fill="#ffd400"/>
<line x1="149.4" y1="213.6" x2="148.4" y2="222.5" stroke="#b4f000" stroke-width="1.0"/>
<path d="M148.3,223.1L147.4,220.2L149.8,220.5Z" fill="#b4f000"/>
<line x1="105.7" y1="99.3" x2="97.8" y2="102.2" stroke="#ffd400" stroke-width="1.0"/>
<path d="M97.2,102.4L99.4,100.3L100.2,102.5Z" fill="#ffd400"/>
<line x1="153.1" y1="186.6" x2="157.7" y2="178.8" stroke="#b4f000" stroke-width="1.0"/>
<path d="M158.0,178.3L157.6,181.3L155.5,180.1Z" fill="#b4f000"/>
<line x1="134.4" y1="117.0" x2="142.0" y2="112.3" stroke="#40e000" stroke-width="1.0"/>
<path d="M142.6,112.0L140.8,114.5L139.5,112.5Z" fill="#40e000"/>
<line x1="107.8" y1="178.9" x2="108.9" y2="187.3" stroke="#ffd400" stroke-width="1.0"/>
<path d="M109.0,187.9L107.5,185.3L109.8,185.0Z" fill="#ffd400"/>
<line x1="125.0" y1="216.3" x2="116.8" y2="212.5" stroke="#b4f000" stroke-width="1.0"/>
<path d="M116.3,212.3L119.3,212.4L118.3,214.5Z" fill="#b4f000"/>
<line x1="115.7" y1="217.6" x2="111.5" y2="209.6" stroke="#b4f000" stroke-width="1.0"/>
<path d="M111.2,209.1L113.5,211.0L111.4,212.1Z" fill="#b4f000"/>
<line x1="151.8" y1="112.7" x2="149.3" y2="104.5" stroke="#ffd400" stroke-width="1.0"/>
<path d="M149.2,104.0L151.1,106.3L148.8,107.0Z" fill="#ffd400"/>
<line x1="108.5" y1="108.3" x2="106.6" y2="117.1" stroke="#b4f000" stroke-width="1.0"/>
<path d="M106.5,117.7L105.9,114.7L108.3,115.2Z" fill="#b4f000"/>
<line x1="150.6" y1="200.7" x2="158.6" y2="203.7" stroke="#ffd400" stroke-width="1.0"/>
<path d="M159.2,203.9L156.1,204.0L157.0,201.8Z" fill="#ffd400"/>
<line x1="123.9" y1="113.1" x2="132.8" y2="114.8" stroke="#40e000" stroke-width="1.0"/>
<path d="M133.3,114.9L130.4,115.6L130.8,113.2Z" fill="#40e000"/>
<line x1="151.1" y1="193.4" x2="157.5" y2="190.5" stroke="#ff5a00" stroke-width="1.0"/>
<path d="M158.0,190.2L156.0,192.5L155.0,190.3Z" fill="#ff5a00"/>
<line x1="150.5" y1="198.2" x2="158.9" y2="198.8" stroke="#ffd400" stroke-width="1.0"/>
<path d="M159.5,198.9L156.7,199.8L156.8,197.5Z" fill="#ffd400"/>
<line x1="117.2" y1="111.7" x2="123.7" y2="117.9" stroke="#b4f000" stroke-width="1.0"/>
<path d="M124.2,118.3L121.3,117.3L122.9,115.5Z" fill="#b4f000"/>
<line x1="155.1" y1="101.7" x2="147.4" y2="98.2" stroke="#ffd400" stroke-width="1.0"/>
<path d="M146.8,98.0L149.9,98.0L148.9,100.2Z" fill="#ffd400"/>
<line x1="103.3" y1="207.2" x2="109.7" y2="201.7" stroke="#ffd400" stroke-width="1.0"/>
<path d="M110.2,201.3L108.8,204.0L107.3,202.2Z" fill="#ffd400"/>
<line x1="150.8" y1="208.3" x2="154.0" y2="216.7" stroke="#b4f000" stroke-width="1.0"/>
<path d="M154.2,217.3L152.1,215.1L154.3,214.2Z" fill="#b4f000"/>
<line x1="121.1" y1="216.8" x2="114.2" y2="211.0" stroke="#b4f000" stroke-width="1.0"/>
<path d="M113.8,210.6L116.7,211.5L115.1,213.3Z" fill="#b4f000"/>
<line x1="128.9" y1="114.0" x2="137.7" y2="112.5" stroke="#40e000" stroke-width="1.0"/>
<path d="M138.3,112.4L135.8,114.0L135.4,111.7Z" fill="#40e000"/>
<line x1="154.1" y1="108.4" x2="149.0" y2="101.6" stroke="#ffd400" stroke-width="1.0"/>
<path d="M148.6,101.2L151.3,102.7L149.4,104.1Z" fill="#ffd400"/>
<line x1="120.9" y1="112.4" x2="129.1" y2="116.1" stroke="#b4f000" stroke-width="1.0"/>
<path d="M129.6,116.3L126.6,116.3L127.6,114.1Z" fill="#b4f000"/>
<line x1="119.3" y1="177.5" x2="113.5" y2="184.3" stroke="#b4f000" stroke-width="1.0"/>
<path d="M113.1,184.8L114.0,181.9L115.8,183.4Z" fill="#b4f000"/>
<line x1="103.3" y1="200.1" x2="110.2" y2="198.8" stroke="#ff5a00" stroke-width="1.0"/>
<path d="M110.8,198.6L108.3,200.4L107.8,198.0Z" fill="#ff5a00"/>
<line x1="107.5" y1="90.4" x2="101.8" y2="86.4" stroke="#ff5a00" stroke-width="1.0"/>
<path d="M101.3,86.0L104.3,86.7L102.9,88.6Z" fill="#ff5a00"/>
<line x1="142.8" y1="181.7" x2="137.2" y2="174.7" stroke="#b4f000" stroke-width="1.0"/>
<path d="M136.9,174.2L139.5,175.6L137.7,177.1Z" fill="#b4f000"/>
<line x1="139.4" y1="213.5" x2="131.6" y2="218.1" stroke="#b4f000" stroke-width="1.0"/>
<path d="M131.1,218.4L132.9,216.0L134.1,218.0Z" fill="#b4f000"/>
<line x1="107.5" y1="88.1" x2="102.2" y2="81.4" stroke="#ffd400" stroke-width="1.0"/>
<path d="M101.8,81.0L104.5,82.4L102.7,83.9Z" fill="#ffd400"/>
<line x1="151.1" y1="189.2" x2="156.5" y2="182.6" stroke="#ffd400" stroke-width="1.0"/>
<path d="M156.8,182.1L156.0,185.1L154.2,183.6Z" fill="#ffd400"/>
<line x1="154.6" y1="87.3" x2="147.8" y2="92.4" stroke="#ffd400" stroke-width="1.0"/>
<path d="M147.4,92.8L148.9,90.1L150.3,92.0Z" fill="#ffd400"/>
<line x1="151.8" y1="80.1" x2="149.2" y2="88.2" stroke="#ffd400" stroke-width="1.0"/>
<path d="M149.0,88.8L148.7,85.7L151.0,86.5Z" fill="#ffd400"/>
<line x1="107.9" y1="97.5" x2="101.0" y2="98.6" stroke="#ff5a00" stroke-width="1.0"/>
<path d="M100.4,98.7L103.0,97.1L103.4,99.5Z" fill="#ff5a00"/>
<line x1="105.5" y1="181.6" x2="108.9" y2="189.9" stroke="#b4f000" stroke-width="1.0"/>
<path d="M109.2,190.5L107.0,188.3L109.2,187.4Z" fill="#b4f000"/>
<line x1="103.7" y1="186.7" x2="109.7" y2="192.7" stroke="#ffd400" stroke-width="1.0"/>
<path d="M110.1,193.1L107.3,192.0L109.0,190.3Z" fill="#ffd400"/>
<line x1="155.0" y1="97.7" x2="146.6" y2="96.6" stroke="#ffd400" stroke-width="1.0"/>
<path d="M146.0,96.5L148.9,95.7L148.6,98.1Z" fill="#ffd400"/>
<line x1="146.3" y1="212.1" x2="143.3" y2="220.6" stroke="#b4f000" stroke-width="1.0"/>
<path d="M143.1,221.2L142.9,218.2L145.1,219.0Z" fill="#b4f000"/>
<line x1="107.8" y1="215.1" x2="109.1" y2="206.2" stroke="#b4f000" stroke-width="1.0"/>
<path d="M109.2,205.6L110.0,208.5L107.6,208.2Z" fill="#b4f000"/>
<line x1="107.7" y1="104.3" x2="102.6" y2="111.2" stroke="#ffd400" stroke-width="1.0"/>
<path d="M102.3,111.6L103.0,108.7L104.9,110.1Z" fill="#ffd400"/>
<line x1="112.5" y1="177.4" x2="110.6" y2="186.2" stroke="#b4f000" stroke-width="1.0"/>
<path d="M110.5,186.8L109.9,183.8L112.3,184.3Z" fill="#b4f000"/>
<line x1="150.9" y1="205.5" x2="156.1" y2="212.3" stroke="#ffd400" stroke-width="1.0"/>
<path d="M156.4,212.7L153.8,211.3L155.7,209.8Z" fill="#ffd400"/>
<line x1="150.1" y1="185.7" x2="152.6" y2="177.5" stroke="#ffd400" stroke-width="1.0"/>
<path d="M152.7,177.0L153.1,180.0L150.8,179.3Z" fill="#ffd400"/>
<line x1="105.7" y1="212.8" x2="109.1" y2="204.5" stroke="#b4f000" stroke-width="1.0"/>
<path d="M109.3,203.9L109.4,207.0L107.2,206.1Z" fill="#b4f000"/>
<line x1="140.0" y1="77.3" x2="145.2" y2="84.0" stroke="#ffd400" stroke-width="1.0"/>
<path d="M145.5,84.5L142.9,83.0L144.8,81.5Z" fill="#ffd400"/>
<line x1="131.2" y1="214.6" x2="122.2" y2="214.3" stroke="#40e000" stroke-width="1.0"/>
<path d="M121.6,214.3L124.5,213.2L124.4,215.6Z" fill="#40e000"/>
<line x1="103.5" y1="190.8" x2="111.1" y2="194.8" stroke="#ffd400" stroke-width="1.0"/>
<path d="M111.6,195.0L108.5,194.8L109.7,192.7Z" fill="#ffd400"/>
<line x1="146.5" y1="77.1" x2="147.9" y2="86.0" stroke="#b4f000" stroke-width="1.0"/>
<path d="M148.0,86.6L146.4,84.0L148.8,83.7Z" fill="#b4f000"/>
<line x1="134.1" y1="180.5" x2="125.2" y2="179.0" stroke="#b4f000" stroke-width="1.0"/>
<path d="M124.6,178.9L127.6,178.2L127.2,180.6Z" fill="#b4f000"/>
<line x1="150.6" y1="203.3" x2="156.2" y2="207.5" stroke="#ff5a00" stroke-width="1.0"/>
<path d="M156.6,207.8L153.7,207.1L155.1,205.2Z" fill="#ff5a00"/>
<line x1="145.1" y1="182.1" x2="142.5" y2="175.6" stroke="#ff0000" stroke-width="1.0"/>
<path d="M142.2,175.0L144.4,177.2L142.2,178.1Z" fill="#ff0000"/>
<line x1="137.4" y1="181.1" x2="131.1" y2="178.0" stroke="#ff5a00" stroke-width="1.0"/>
<path d="M130.5,177.8L133.6,177.9L132.5,180.1Z" fill="#ff5a00"/>
<line x1="112.4" y1="216.1" x2="110.8" y2="209.3" stroke="#ff5a00" stroke-width="1.0"/>
<path d="M110.6,208.7L112.4,211.1L110.1,211.7Z" fill="#ff5a00"/>
<line x1="123.8" y1="80.0" x2="130.6" y2="78.4" stroke="#ff0000" stroke-width="1.0"/>
<path d="M131.2,78.3L128.7,80.1L128.2,77.7Z" fill="#ff0000"/>
<line x1="109.9" y1="83.0" x2="109.6" y2="76.0" stroke="#ff5a00" stroke-width="1.0"/>
<path d="M109.6,75.4L110.9,78.2L108.5,78.3Z" fill="#ff5a00"/>
<line x1="154.0" y1="94.2" x2="147.1" y2="95.2" stroke="#ff5a00" stroke-width="1.0"/>
<path d="M146.5,95.2L149.1,93.7L149.4,96.1Z" fill="#ff5a00"/>
<line x1="104.0" y1="194.6" x2="110.9" y2="196.1" stroke="#ff0000" stroke-width="1.0"/>
<path d="M111.5,196.2L108.5,196.8L109.0,194.4Z" fill="#ff0000"/>
<line x1="136.7" y1="114.0" x2="142.1" y2="109.6" stroke="#ff5a00" stroke-width="1.0"/>
<path d="M142.6,109.3L141.2,112.0L139.7,110.1Z" fill="#ff5a00"/>
<line x1="153.5" y1="104.6" x2="148.1" y2="100.2" stroke="#ff5a00" stroke-width="1.0"/>
<path d="M147.6,99.9L150.6,100.7L149.1,102.6Z" fill="#ff5a00"/>
<line x1="148.4" y1="183.7" x2="148.6" y2="176.7" stroke="#ff0000" stroke-width="1.0"/>
<path d="M148.7,176.1L149.8,178.9L147.4,178.8Z" fill="#ff0000"/>
<line x1="152.6" y1="83.2" x2="149.0" y2="89.3" stroke="#ff0000" stroke-width="1.0"/>
<path d="M148.7,89.8L149.1,86.8L151.2,88.0Z" fill="#ff0000"/>
<line x1="149.1" y1="210.3" x2="149.8" y2="217.2" stroke="#ff5a00" stroke-width="1.0"/>
<path d="M149.8,217.8L148.4,215.1L150.8,214.9Z" fill="#ff5a00"/>
<line x1="113.6" y1="81.6" x2="116.6" y2="75.2" stroke="#ff5a00" stroke-width="1.0"/>
<path d="M116.9,74.7L116.8,77.7L114.6,76.7Z" fill="#ff5a00"/>
<line x1="121.2" y1="80.5" x2="127.7" y2="77.7" stroke="#ff0000" stroke-width="1.0"/>
<path d="M128.2,77.5L126.1,79.7L125.2,77.5Z" fill="#ff0000"/>
<line x1="153.7" y1="91.1" x2="147.2" y2="93.7" stroke="#ff0000" stroke-width="1.0"/>
<path d="M146.7,93.9L148.8,91.8L149.7,94.0Z" fill="#ff0000"/>
<line x1="136.5" y1="213.3" x2="129.9" y2="215.7" stroke="#ff0000" stroke-width="1.0"/>
<path d="M129.3,215.9L131.6,213.8L132.4,216.1Z" fill="#ff0000"/>
<line x1="108.8" y1="95.1" x2="101.8" y2="94.5" stroke="#ff0000" stroke-width="1.0"/>
<path d="M101.2,94.4L104.1,93.5L103.9,95.9Z" fill="#ff0000"/>
<line x1="111.4" y1="110.0" x2="112.3" y2="116.9" stroke="#ff0000" stroke-width="1.0"/>
<path d="M112.4,117.5L110.9,114.9L113.2,114.6Z" fill="#ff0000"/>
<line x1="133.9" y1="213.6" x2="127.0" y2="214.9" stroke="#ff5a00" stroke-width="1.0"/>
<path d="M126.4,215.0L129.0,213.3L129.4,215.7Z" fill="#ff5a00"/>
<line x1="146.1" y1="114.2" x2="147.2" y2="107.3" stroke="#ff0000" stroke-width="1.0"/>
<path d="M147.2,106.7L148.0,109.6L145.6,109.2Z" fill="#ff0000"/>
<line x1="128.3" y1="180.1" x2="121.4" y2="181.5" stroke="#ff5a00" stroke-width="1.0"/>
<path d="M120.8,181.6L123.3,179.9L123.8,182.3Z" fill="#ff5a00"/>
<line x1="133.5" y1="79.0" x2="139.9" y2="81.9" stroke="#ff5a00" stroke-width="1.0"/>
<path d="M140.5,82.1L137.4,82.1L138.4,79.9Z" fill="#ff5a00"/>
<line x1="142.1" y1="212.3" x2="137.5" y2="217.5" stroke="#ff0000" stroke-width="1.0"/>
<path d="M137.1,218.0L138.0,215.1L139.8,216.7Z" fill="#ff0000"/>
<line x1="139.6" y1="181.9" x2="133.9" y2="177.7" stroke="#ff5a00" stroke-width="1.0"/>
<path d="M133.4,177.4L136.4,178.1L135.0,180.0Z" fill="#ff5a00"/>
<line x1="130.5" y1="79.5" x2="137.4" y2="81.1" stroke="#ff0000" stroke-width="1.0"/>
<path d="M138.0,81.2L135.0,81.8L135.5,79.4Z" fill="#ff0000"/>
<line x1="105.5" y1="209.4" x2="109.5" y2="203.7" stroke="#ff0000" stroke-width="1.0"/>
<path d="M109.8,203.2L109.2,206.2L107.2,204.8Z" fill="#ff0000"/>
<line x1="150.0" y1="191.2" x2="155.3" y2="186.7" stroke="#ff0000" stroke-width="1.0"/>
<path d="M155.8,186.3L154.4,189.0L152.9,187.2Z" fill="#ff0000"/>
<line x1="124.2" y1="179.9" x2="117.9" y2="183.1" stroke="#ff0000" stroke-width="1.0"/>
<path d="M117.4,183.4L119.3,181.0L120.5,183.2Z" fill="#ff0000"/>
<line x1="130.9" y1="180.8" x2="123.9" y2="181.0" stroke="#ff0000" stroke-width="1.0"/>
<path d="M123.3,181.0L126.1,179.7L126.1,182.1Z" fill="#ff0000"/>
<line x1="115.7" y1="81.9" x2="119.9" y2="76.3" stroke="#ff0000" stroke-width="1.0"/>
<path d="M120.3,75.8L119.5,78.8L117.6,77.3Z" fill="#ff0000"/>
<line x1="118.3" y1="81.5" x2="123.8" y2="77.2" stroke="#ff0000" stroke-width="1.0"/>
<path d="M124.3,76.9L122.8,79.5L121.3,77.6Z" fill="#ff0000"/>
<line x1="109.1" y1="92.8" x2="102.6" y2="90.3" stroke="#ff0000" stroke-width="1.0"/>
<path d="M102.0,90.1L105.0,90.0L104.2,92.2Z" fill="#ff0000"/>
<line x1="127.9" y1="80.2" x2="134.9" y2="80.5" stroke="#ff0000" stroke-width="1.0"/>
<path d="M135.5,80.6L132.6,81.6L132.8,79.2Z" fill="#ff0000"/>
<line x1="111.9" y1="82.8" x2="113.2" y2="75.9" stroke="#ff0000" stroke-width="1.0"/>
<path d="M113.3,75.3L114.0,78.3L111.6,77.8Z" fill="#ff0000"/>
<line x1="137.4" y1="79.1" x2="142.7" y2="83.6" stroke="#ff5a00" stroke-width="1.0"/>
<path d="M143.2,84.0L140.3,83.1L141.8,81.2Z" fill="#ff5a00"/>
<line x1="142.4" y1="113.8" x2="145.4" y2="107.4" stroke="#ff0000" stroke-width="1.0"/>
<path d="M145.6,106.9L145.5,109.9L143.4,108.9Z" fill="#ff0000"/>
<line x1="114.2" y1="109.9" x2="117.2" y2="116.2" stroke="#ff0000" stroke-width="1.0"/>
<path d="M117.4,116.8L115.1,114.8L117.3,113.7Z" fill="#ff0000"/>
<line x1="116.2" y1="179.3" x2="112.9" y2="185.5" stroke="#ff0000" stroke-width="1.0"/>
<path d="M112.7,186.1L112.9,183.0L115.0,184.2Z" fill="#ff0000"/>
<line x1="110.4" y1="180.2" x2="110.5" y2="187.2" stroke="#ff5a00" stroke-width="1.0"/>
<path d="M110.5,187.8L109.2,185.1L111.6,185.0Z" fill="#ff5a00"/>
<line x1="109.2" y1="106.1" x2="106.7" y2="112.7" stroke="#ff0000" stroke-width="1.0"/>
<path d="M106.5,113.2L106.4,110.2L108.6,111.0Z" fill="#ff0000"/>
<line x1="116.7" y1="214.8" x2="113.0" y2="208.8" stroke="#ff0000" stroke-width="1.0"/>
<path d="M112.7,208.3L115.2,210.1L113.2,211.3Z" fill="#ff0000"/>
<line x1="148.9" y1="195.3" x2="155.7" y2="193.6" stroke="#ff0000" stroke-width="1.0"/>
<path d="M156.2,193.5L153.8,195.3L153.2,193.0Z" fill="#ff0000"/>
<line x1="152.7" y1="99.7" x2="146.0" y2="97.6" stroke="#ff0000" stroke-width="1.0"/>
<path d="M145.4,97.5L148.4,97.1L147.8,99.4Z" fill="#ff0000"/>
<line x1="143.3" y1="78.9" x2="145.9" y2="85.4" stroke="#ff0000" stroke-width="1.0"/>
<path d="M146.2,85.9L144.0,83.8L146.2,82.9Z" fill="#ff0000"/>
<line x1="148.6" y1="80.3" x2="147.8" y2="87.3" stroke="#ff0000" stroke-width="1.0"/>
<path d="M147.8,87.9L146.9,85.0L149.3,85.2Z" fill="#ff0000"/>
<line x1="125.5" y1="213.6" x2="118.9" y2="211.1" stroke="#ff0000" stroke-width="1.0"/>
<path d="M118.4,210.9L121.4,210.8L120.6,213.0Z" fill="#ff0000"/>
<line x1="109.6" y1="85.7" x2="107.7" y2="79.0" stroke="#ff0000" stroke-width="1.0"/>
<path d="M107.5,78.4L109.4,80.8L107.1,81.4Z" fill="#ff0000"/>
<line x1="120.4" y1="180.2" x2="115.3" y2="185.0" stroke="#ff0000" stroke-width="1.0"/>
<path d="M114.9,185.4L116.1,182.6L117.7,184.4Z" fill="#ff0000"/>
<line x1="148.4" y1="111.9" x2="147.6" y2="105.0" stroke="#ff0000" stroke-width="1.0"/>
<path d="M147.6,104.4L149.1,107.0L146.7,107.3Z" fill="#ff0000"/>
<line x1="109.6" y1="101.8" x2="104.2" y2="106.3" stroke="#ff0000" stroke-width="1.0"/>
<path d="M103.8,106.7L105.1,104.0L106.7,105.8Z" fill="#ff0000"/>
<line x1="119.8" y1="110.1" x2="125.7" y2="113.8" stroke="#ff0000" stroke-width="1.0"/>
<path d="M126.2,114.1L123.2,113.6L124.5,111.6Z" fill="#ff0000"/>
<line x1="151.2" y1="108.4" x2="147.8" y2="102.3" stroke="#ff0000" stroke-width="1.0"/>
<path d="M147.5,101.8L149.9,103.7L147.8,104.8Z" fill="#ff0000"/>
<line x1="152.2" y1="102.5" x2="146.2" y2="99.0" stroke="#ff0000" stroke-width="1.0"/>
<path d="M145.6,98.7L148.7,99.0L147.5,101.1Z" fill="#ff0000"/>
<line x1="105.9" y1="205.0" x2="111.6" y2="200.9" stroke="#ff0000" stroke-width="1.0"/>
<path d="M112.1,200.6L110.5,203.2L109.1,201.2Z" fill="#ff0000"/>
<line x1="139.3" y1="112.8" x2="143.8" y2="107.4" stroke="#ff0000" stroke-width="1.0"/>
<path d="M144.2,106.9L143.3,109.8L141.5,108.3Z" fill="#ff0000"/>
<line x1="110.1" y1="99.0" x2="103.5" y2="101.5" stroke="#ff0000" stroke-width="1.0"/>
<path d="M103.0,101.7L105.1,99.6L106.0,101.8Z" fill="#ff0000"/>
<line x1="148.4" y1="197.7" x2="155.4" y2="198.0" stroke="#ff0000" stroke-width="1.0"/>
<path d="M156.0,198.0L153.2,199.1L153.2,196.7Z" fill="#ff0000"/>
<line x1="132.5" y1="111.7" x2="139.1" y2="109.2" stroke="#ff0000" stroke-width="1.0"/>
<path d="M139.6,109.0L137.4,111.1L136.6,108.9Z" fill="#ff0000"/>
<line x1="125.0" y1="110.6" x2="131.9" y2="111.6" stroke="#ff0000" stroke-width="1.0"/>
<path d="M132.5,111.7L129.6,112.5L129.9,110.1Z" fill="#ff0000"/>
<line x1="117.2" y1="109.4" x2="122.1" y2="114.4" stroke="#ff0000" stroke-width="1.0"/>
<path d="M122.5,114.8L119.7,113.7L121.4,112.0Z" fill="#ff0000"/>
<line x1="110.4" y1="96.7" x2="103.5" y2="97.4" stroke="#ff0000" stroke-width="1.0"/>
<path d="M102.9,97.4L105.5,96.0L105.8,98.4Z" fill="#ff0000"/>
<line x1="108.3" y1="182.9" x2="110.4" y2="189.6" stroke="#ff0000" stroke-width="1.0"/>
<path d="M110.6,190.2L108.6,187.8L110.9,187.1Z" fill="#ff0000"/>
<line x1="105.9" y1="196.4" x2="112.9" y2="196.9" stroke="#ff0000" stroke-width="1.0"/>
<path d="M113.5,197.0L110.6,198.0L110.8,195.6Z" fill="#ff0000"/>
<line x1="146.5" y1="184.6" x2="145.6" y2="177.7" stroke="#ff0000" stroke-width="1.0"/>
<path d="M145.5,177.1L147.1,179.7L144.7,180.0Z" fill="#ff0000"/>
<line x1="148.4" y1="202.2" x2="154.2" y2="206.0" stroke="#ff0000" stroke-width="1.0"/>
<path d="M154.7,206.3L151.7,205.8L153.0,203.8Z" fill="#ff0000"/>
<line x1="141.7" y1="183.8" x2="137.0" y2="178.6" stroke="#ff0000" stroke-width="1.0"/>
<path d="M136.6,178.2L139.4,179.5L137.6,181.1Z" fill="#ff0000"/>
<line x1="106.8" y1="186.5" x2="111.1" y2="192.0" stroke="#ff0000" stroke-width="1.0"/>
<path d="M111.4,192.5L108.8,191.0L110.7,189.6Z" fill="#ff0000"/>
<line x1="127.4" y1="110.8" x2="134.4" y2="110.6" stroke="#ff0000" stroke-width="1.0"/>
<path d="M135.0,110.6L132.2,111.9L132.2,109.5Z" fill="#ff0000"/>
<line x1="128.7" y1="212.5" x2="121.7" y2="211.4" stroke="#ff0000" stroke-width="1.0"/>
<path d="M121.2,211.3L124.1,210.6L123.7,212.9Z" fill="#ff0000"/>
<line x1="108.3" y1="211.2" x2="110.5" y2="204.6" stroke="#ff0000" stroke-width="1.0"/>
<path d="M110.7,204.0L111.0,207.1L108.7,206.3Z" fill="#ff0000"/>
<line x1="147.9" y1="199.7" x2="154.7" y2="201.6" stroke="#ff0000" stroke-width="1.0"/>
<path d="M155.2,201.7L152.2,202.1L152.9,199.8Z" fill="#ff0000"/>
<line x1="113.3" y1="180.7" x2="111.9" y2="187.5" stroke="#ff0000" stroke-width="1.0"/>
<path d="M111.7,188.1L111.1,185.1L113.5,185.6Z" fill="#ff0000"/>
<line x1="135.1" y1="183.2" x2="128.3" y2="181.4" stroke="#ff0000" stroke-width="1.0"/>
<path d="M127.8,181.2L130.8,180.8L130.2,183.1Z" fill="#ff0000"/>
<line x1="121.1" y1="213.2" x2="115.5" y2="208.8" stroke="#ff0000" stroke-width="1.0"/>
<path d="M115.1,208.5L118.0,209.3L116.5,211.1Z" fill="#ff0000"/>
<line x1="125.5" y1="82.2" x2="132.4" y2="81.4" stroke="#ff0000" stroke-width="1.0"/>
<path d="M133.0,81.4L130.4,82.9L130.1,80.5Z" fill="#ff0000"/>
<line x1="148.5" y1="206.4" x2="151.3" y2="212.9" stroke="#ff0000" stroke-width="1.0"/>
<path d="M151.6,213.4L149.3,211.3L151.5,210.4Z" fill="#ff0000"/>
<line x1="147.4" y1="208.6" x2="147.8" y2="215.6" stroke="#ff0000" stroke-width="1.0"/>
<path d="M147.9,216.2L146.5,213.4L148.9,213.3Z" fill="#ff0000"/>
<line x1="127.4" y1="182.4" x2="120.6" y2="184.1" stroke="#ff0000" stroke-width="1.0"/>
<path d="M120.1,184.2L122.5,182.4L123.1,184.7Z" fill="#ff0000"/>
<line x1="106.9" y1="192.2" x2="113.3" y2="195.0" stroke="#ff0000" stroke-width="1.0"/>
<path d="M113.8,195.3L110.8,195.2L111.7,193.0Z" fill="#ff0000"/>
<line x1="135.9" y1="210.9" x2="129.2" y2="212.9" stroke="#ff0000" stroke-width="1.0"/>
<path d="M128.6,213.1L131.0,211.1L131.7,213.4Z" fill="#ff0000"/>
<line x1="150.6" y1="105.5" x2="145.9" y2="100.3" stroke="#ff0000" stroke-width="1.0"/>
<path d="M145.5,99.9L148.2,101.2L146.5,102.8Z" fill="#ff0000"/>
<line x1="148.0" y1="187.5" x2="150.0" y2="180.8" stroke="#ff0000" stroke-width="1.0"/>
<path d="M150.2,180.2L150.5,183.3L148.2,182.6Z" fill="#ff0000"/>
<line x1="142.4" y1="209.8" x2="138.0" y2="215.2" stroke="#ff0000" stroke-width="1.0"/>
<path d="M137.6,215.6L138.5,212.7L140.3,214.2Z" fill="#ff0000"/>
<line x1="151.0" y1="91.5" x2="144.5" y2="94.1" stroke="#ff0000" stroke-width="1.0"/>
<path d="M144.0,94.3L146.1,92.1L147.0,94.4Z" fill="#ff0000"/>
<line x1="112.6" y1="213.2" x2="111.6" y2="206.2" stroke="#ff0000" stroke-width="1.0"/>
<path d="M111.6,205.6L113.1,208.2L110.8,208.6Z" fill="#ff0000"/>
<line x1="151.1" y1="94.5" x2="144.2" y2="95.4" stroke="#ff0000" stroke-width="1.0"/>
<path d="M143.6,95.4L146.2,93.9L146.5,96.3Z" fill="#ff0000"/>
<line x1="149.7" y1="84.0" x2="146.7" y2="90.3" stroke="#ff0000" stroke-width="1.0"/>
<path d="M146.4,90.9L146.5,87.8L148.7,88.9Z" fill="#ff0000"/>
<line x1="114.9" y1="84.3" x2="118.4" y2="78.3" stroke="#ff0000" stroke-width="1.0"/>
<path d="M118.7,77.8L118.4,80.8L116.3,79.6Z" fill="#ff0000"/>
<line x1="130.3" y1="183.1" x2="123.3" y2="183.5" stroke="#ff0000" stroke-width="1.0"/>
<path d="M122.7,183.6L125.4,182.2L125.5,184.6Z" fill="#ff0000"/>
<line x1="132.7" y1="183.5" x2="125.7" y2="182.8" stroke="#ff0000" stroke-width="1.0"/>
<path d="M125.1,182.7L128.0,181.8L127.8,184.2Z" fill="#ff0000"/>
<line x1="147.2" y1="193.9" x2="153.6" y2="191.1" stroke="#ff0000" stroke-width="1.0"/>
<path d="M154.1,190.9L152.0,193.1L151.1,190.9Z" fill="#ff0000"/>
<line x1="144.6" y1="111.6" x2="145.9" y2="104.8" stroke="#ff0000" stroke-width="1.0"/>
<path d="M146.1,104.2L146.7,107.2L144.3,106.7Z" fill="#ff0000"/>
<line x1="107.5" y1="189.3" x2="113.0" y2="193.7" stroke="#ff0000" stroke-width="1.0"/>
<path d="M113.4,194.0L110.5,193.2L112.0,191.4Z" fill="#ff0000"/>
<line x1="110.9" y1="89.7" x2="106.4" y2="84.3" stroke="#ff0000" stroke-width="1.0"/>
<path d="M106.0,83.9L108.7,85.2L106.9,86.8Z" fill="#ff0000"/>
<line x1="111.4" y1="91.6" x2="105.6" y2="87.8" stroke="#ff0000" stroke-width="1.0"/>
<path d="M105.1,87.5L108.1,88.0L106.7,90.0Z" fill="#ff0000"/>
<line x1="145.1" y1="81.0" x2="146.1" y2="87.9" stroke="#ff0000" stroke-width="1.0"/>
<path d="M146.2,88.5L144.6,85.9L147.0,85.5Z" fill="#ff0000"/>
<line x1="138.2" y1="210.0" x2="131.9" y2="213.1" stroke="#ff0000" stroke-width="1.0"/>
<path d="M131.4,213.4L133.4,211.1L134.4,213.2Z" fill="#ff0000"/>
<line x1="123.0" y1="108.9" x2="129.8" y2="110.7" stroke="#ff0000" stroke-width="1.0"/>
<path d="M130.4,110.9L127.3,111.3L128.0,109.0Z" fill="#ff0000"/>
<line x1="132.8" y1="82.2" x2="139.4" y2="84.6" stroke="#ff0000" stroke-width="1.0"/>
<path d="M140.0,84.8L136.9,85.0L137.8,82.7Z" fill="#ff0000"/>
<line x1="146.6" y1="196.3" x2="153.5" y2="195.4" stroke="#ff0000" stroke-width="1.0"/>
<path d="M154.1,195.3L151.5,196.8L151.2,194.5Z" fill="#ff0000"/>
<line x1="133.3" y1="210.5" x2="126.3" y2="211.4" stroke="#ff0000" stroke-width="1.0"/>
<path d="M125.7,211.4L128.4,209.9L128.7,212.3Z" fill="#ff0000"/>
<line x1="147.4" y1="190.3" x2="151.5" y2="184.7" stroke="#ff0000" stroke-width="1.0"/>
<path d="M151.9,184.2L151.2,187.2L149.2,185.7Z" fill="#ff0000"/>
<line x1="122.4" y1="182.7" x2="116.5" y2="186.5" stroke="#ff0000" stroke-width="1.0"/>
<path d="M116.0,186.8L117.7,184.3L119.0,186.3Z" fill="#ff0000"/>
<line x1="127.9" y1="83.0" x2="134.9" y2="83.4" stroke="#ff0000" stroke-width="1.0"/>
<path d="M135.5,83.4L132.7,84.5L132.8,82.1Z" fill="#ff0000"/>
<line x1="144.3" y1="185.8" x2="141.7" y2="179.3" stroke="#ff0000" stroke-width="1.0"/>
<path d="M141.4,178.8L143.6,180.9L141.4,181.8Z" fill="#ff0000"/>
<line x1="137.8" y1="81.8" x2="143.1" y2="86.4" stroke="#ff0000" stroke-width="1.0"/>
<path d="M143.5,86.8L140.6,85.9L142.2,84.0Z" fill="#ff0000"/>
<line x1="136.2" y1="110.2" x2="142.0" y2="106.3" stroke="#ff0000" stroke-width="1.0"/>
<path d="M142.5,105.9L140.8,108.5L139.5,106.5Z" fill="#ff0000"/>
<line x1="107.7" y1="200.8" x2="114.5" y2="198.9" stroke="#ff0000" stroke-width="1.0"/>
<path d="M115.0,198.8L112.7,200.7L112.0,198.4Z" fill="#ff0000"/>
<line x1="144.4" y1="208.6" x2="141.6" y2="215.0" stroke="#ff0000" stroke-width="1.0"/>
<path d="M141.3,215.6L141.3,212.5L143.6,213.5Z" fill="#ff0000"/>
<line x1="146.9" y1="203.6" x2="151.5" y2="208.8" stroke="#ff0000" stroke-width="1.0"/>
<path d="M151.9,209.3L149.2,208.0L151.0,206.4Z" fill="#ff0000"/>
<line x1="112.4" y1="106.3" x2="112.5" y2="113.3" stroke="#ff0000" stroke-width="1.0"/>
<path d="M112.5,113.9L111.3,111.1L113.7,111.1Z" fill="#ff0000"/>
<line x1="140.4" y1="209.1" x2="134.7" y2="213.2" stroke="#ff0000" stroke-width="1.0"/>
<path d="M134.2,213.6L135.8,211.0L137.2,212.9Z" fill="#ff0000"/>
<line x1="118.5" y1="211.9" x2="113.9" y2="206.6" stroke="#ff0000" stroke-width="1.0"/>
<path d="M113.6,206.1L116.3,207.5L114.4,209.0Z" fill="#ff0000"/>
<line x1="149.5" y1="87.5" x2="144.5" y2="92.5" stroke="#ff0000" stroke-width="1.0"/>
<path d="M144.1,92.9L145.3,90.1L146.9,91.8Z" fill="#ff0000"/>
<line x1="112.4" y1="94.3" x2="105.6" y2="92.8" stroke="#ff0000" stroke-width="1.0"/>
<path d="M105.0,92.6L108.0,92.1L107.5,94.4Z" fill="#ff0000"/>
<line x1="119.7" y1="182.7" x2="114.7" y2="187.6" stroke="#ff0000" stroke-width="1.0"/>
<path d="M114.3,188.1L115.4,185.2L117.1,187.0Z" fill="#ff0000"/>
<line x1="112.5" y1="98.0" x2="105.7" y2="99.7" stroke="#ff0000" stroke-width="1.0"/>
<path d="M105.1,99.8L107.6,98.0L108.1,100.3Z" fill="#ff0000"/>
<line x1="111.6" y1="103.2" x2="107.9" y2="109.1" stroke="#ff0000" stroke-width="1.0"/>
<path d="M107.6,109.6L108.0,106.6L110.1,107.9Z" fill="#ff0000"/>
<line x1="111.6" y1="182.8" x2="111.9" y2="189.8" stroke="#ff0000" stroke-width="1.0"/>
<path d="M112.0,190.4L110.6,187.7L113.0,187.6Z" fill="#ff0000"/>
<line x1="108.9" y1="207.7" x2="112.9" y2="202.0" stroke="#ff0000" stroke-width="1.0"/>
<path d="M113.2,201.5L112.6,204.5L110.6,203.1Z" fill="#ff0000"/>
<line x1="148.5" y1="108.1" x2="145.8" y2="101.6" stroke="#ff0000" stroke-width="1.0"/>
<path d="M145.6,101.1L147.8,103.2L145.6,104.1Z" fill="#ff0000"/>
<line x1="120.2" y1="107.8" x2="126.5" y2="110.9" stroke="#ff0000" stroke-width="1.0"/>
<path d="M127.0,111.2L124.0,111.0L125.0,108.8Z" fill="#ff0000"/>
<line x1="112.6" y1="86.1" x2="113.0" y2="79.2" stroke="#ff0000" stroke-width="1.0"/>
<path d="M113.0,78.6L114.0,81.4L111.6,81.3Z" fill="#ff0000"/>
<line x1="145.9" y1="198.3" x2="152.9" y2="199.1" stroke="#ff0000" stroke-width="1.0"/>
<path d="M153.5,199.2L150.6,200.0L150.8,197.6Z" fill="#ff0000"/>
<line x1="125.3" y1="183.7" x2="118.8" y2="186.2" stroke="#ff0000" stroke-width="1.0"/>
<path d="M118.2,186.4L120.4,184.3L121.3,186.5Z" fill="#ff0000"/>
<line x1="115.4" y1="212.0" x2="112.8" y2="205.5" stroke="#ff0000" stroke-width="1.0"/>
<path d="M112.5,205.0L114.7,207.1L112.5,208.0Z" fill="#ff0000"/>
<line x1="149.8" y1="98.1" x2="142.9" y2="96.9" stroke="#ff0000" stroke-width="1.0"/>
<path d="M142.3,96.8L145.3,96.1L144.9,98.5Z" fill="#ff0000"/>
<line x1="116.6" y1="85.4" x2="121.5" y2="80.4" stroke="#ff0000" stroke-width="1.0"/>
<path d="M122.0,80.0L120.8,82.8L119.1,81.1Z" fill="#ff0000"/>
<line x1="139.8" y1="110.0" x2="144.2" y2="104.5" stroke="#ff0000" stroke-width="1.0"/>
<path d="M144.5,104.1L143.7,107.0L141.9,105.5Z" fill="#ff0000"/>
<line x1="142.4" y1="186.3" x2="138.0" y2="180.9" stroke="#ff0000" stroke-width="1.0"/>
<path d="M137.6,180.4L140.3,181.8L138.5,183.4Z" fill="#ff0000"/>
<line x1="112.6" y1="100.9" x2="107.0" y2="105.1" stroke="#ff0000" stroke-width="1.0"/>
<path d="M106.6,105.5L108.1,102.8L109.5,104.7Z" fill="#ff0000"/>
<line x1="140.7" y1="82.3" x2="144.6" y2="88.1" stroke="#ff0000" stroke-width="1.0"/>
<path d="M145.0,88.6L142.4,87.0L144.4,85.6Z" fill="#ff0000"/>
<line x1="109.6" y1="186.2" x2="113.0" y2="192.3" stroke="#ff0000" stroke-width="1.0"/>
<path d="M113.3,192.8L110.9,191.0L113.0,189.8Z" fill="#ff0000"/>
<line x1="123.0" y1="84.6" x2="129.8" y2="82.9" stroke="#ff0000" stroke-width="1.0"/>
<path d="M130.4,82.8L128.0,84.6L127.4,82.3Z" fill="#ff0000"/>
<line x1="108.6" y1="197.9" x2="115.6" y2="197.6" stroke="#ff0000" stroke-width="1.0"/>
<path d="M116.2,197.6L113.4,198.9L113.3,196.5Z" fill="#ff0000"/>
<line x1="138.5" y1="185.8" x2="132.3" y2="182.6" stroke="#ff0000" stroke-width="1.0"/>
<path d="M131.7,182.4L134.8,182.6L133.7,184.7Z" fill="#ff0000"/>
<line x1="120.6" y1="85.1" x2="127.1" y2="82.4" stroke="#ff0000" stroke-width="1.0"/>
<path d="M127.6,82.1L125.5,84.3L124.6,82.1Z" fill="#ff0000"/>
<line x1="112.1" y1="88.2" x2="109.9" y2="81.6" stroke="#ff0000" stroke-width="1.0"/>
<path d="M109.7,81.0L111.7,83.3L109.4,84.0Z" fill="#ff0000"/>
<line x1="122.0" y1="210.6" x2="116.1" y2="206.9" stroke="#ff0000" stroke-width="1.0"/>
<path d="M115.5,206.6L118.6,207.0L117.3,209.1Z" fill="#ff0000"/>
<line x1="117.8" y1="106.6" x2="123.3" y2="110.9" stroke="#ff0000" stroke-width="1.0"/>
<path d="M123.8,111.2L120.9,110.5L122.3,108.6Z" fill="#ff0000"/>
<line x1="111.8" y1="210.7" x2="112.4" y2="203.7" stroke="#ff0000" stroke-width="1.0"/>
<path d="M112.4,203.1L113.4,206.0L111.0,205.8Z" fill="#ff0000"/>
<line x1="131.7" y1="108.3" x2="138.4" y2="106.4" stroke="#ff0000" stroke-width="1.0"/>
<path d="M139.0,106.3L136.6,108.2L136.0,105.9Z" fill="#ff0000"/>
<line x1="116.3" y1="183.4" x2="113.1" y2="189.6" stroke="#ff0000" stroke-width="1.0"/>
<path d="M112.9,190.2L113.1,187.1L115.2,188.2Z" fill="#ff0000"/>
<line x1="146.2" y1="83.3" x2="145.5" y2="90.2" stroke="#ff0000" stroke-width="1.0"/>
<path d="M145.4,90.8L144.5,87.9L146.9,88.2Z" fill="#ff0000"/>
<line x1="148.9" y1="92.9" x2="142.2" y2="94.7" stroke="#ff0000" stroke-width="1.0"/>
<path d="M141.6,94.9L144.0,93.0L144.6,95.3Z" fill="#ff0000"/>
<line x1="148.4" y1="104.3" x2="143.3" y2="99.5" stroke="#ff0000" stroke-width="1.0"/>
<path d="M142.9,99.1L145.7,100.1L144.1,101.9Z" fill="#ff0000"/>
<line x1="145.3" y1="192.4" x2="150.9" y2="188.1" stroke="#ff0000" stroke-width="1.0"/>
<path d="M151.4,187.8L149.8,190.4L148.4,188.5Z" fill="#ff0000"/>
<line x1="115.2" y1="105.7" x2="118.9" y2="111.6" stroke="#ff0000" stroke-width="1.0"/>
<path d="M119.2,112.2L116.7,110.4L118.7,109.1Z" fill="#ff0000"/>
<line x1="109.7" y1="204.4" x2="115.4" y2="200.4" stroke="#ff0000" stroke-width="1.0"/>
<path d="M115.9,200.0L114.3,202.6L112.9,200.7Z" fill="#ff0000"/>
<line x1="125.3" y1="107.2" x2="132.3" y2="107.9" stroke="#ff0000" stroke-width="1.0"/>
<path d="M132.9,108.0L130.0,108.9L130.2,106.5Z" fill="#ff0000"/>
<line x1="127.2" y1="209.3" x2="120.4" y2="207.8" stroke="#ff0000" stroke-width="1.0"/>
<path d="M119.8,207.7L122.8,207.1L122.3,209.5Z" fill="#ff0000"/>
<line x1="129.2" y1="185.6" x2="122.3" y2="186.4" stroke="#ff0000" stroke-width="1.0"/>
<path d="M121.7,186.4L124.3,184.9L124.6,187.3Z" fill="#ff0000"/>
<line x1="131.9" y1="185.9" x2="124.9" y2="185.6" stroke="#ff0000" stroke-width="1.0"/>
<path d="M124.3,185.6L127.1,184.5L127.1,186.9Z" fill="#ff0000"/>
<line x1="136.5" y1="208.0" x2="129.8" y2="210.0" stroke="#ff0000" stroke-width="1.0"/>
<path d="M129.2,210.2L131.5,208.2L132.2,210.5Z" fill="#ff0000"/>
<line x1="145.1" y1="188.1" x2="144.4" y2="181.2" stroke="#ff0000" stroke-width="1.0"/>
<path d="M144.3,180.6L145.8,183.2L143.4,183.5Z" fill="#ff0000"/>
<line x1="145.0" y1="206.3" x2="143.9" y2="213.2" stroke="#ff0000" stroke-width="1.0"/>
<path d="M143.8,213.8L143.0,210.9L145.4,211.2Z" fill="#ff0000"/>
<line x1="124.3" y1="209.2" x2="117.8" y2="206.6" stroke="#ff0000" stroke-width="1.0"/>
<path d="M117.3,206.4L120.3,206.3L119.4,208.5Z" fill="#ff0000"/>
<line x1="114.4" y1="99.2" x2="108.0" y2="102.0" stroke="#ff0000" stroke-width="1.0"/>
<path d="M107.4,102.3L109.5,100.1L110.5,102.3Z" fill="#ff0000"/>
<line x1="147.8" y1="101.2" x2="141.5" y2="98.2" stroke="#ff0000" stroke-width="1.0"/>
<path d="M141.0,98.0L144.0,98.1L143.0,100.3Z" fill="#ff0000"/>
<line x1="134.3" y1="107.6" x2="140.7" y2="104.7" stroke="#ff0000" stroke-width="1.0"/>
<path d="M141.3,104.5L139.2,106.7L138.2,104.5Z" fill="#ff0000"/>
<line x1="130.1" y1="208.3" x2="123.2" y2="207.9" stroke="#ff0000" stroke-width="1.0"/>
<path d="M122.6,207.9L125.4,206.9L125.3,209.3Z" fill="#ff0000"/>
<line x1="142.5" y1="206.6" x2="137.6" y2="211.7" stroke="#ff0000" stroke-width="1.0"/>
<path d="M137.2,212.1L138.3,209.2L140.0,210.9Z" fill="#ff0000"/>
<line x1="133.3" y1="207.9" x2="126.4" y2="208.7" stroke="#ff0000" stroke-width="1.0"/>
<path d="M125.8,208.8L128.4,207.2L128.7,209.6Z" fill="#ff0000"/>
<line x1="110.5" y1="190.1" x2="116.2" y2="194.2" stroke="#ff0000" stroke-width="1.0"/>
<path d="M116.7,194.6L113.7,193.9L115.1,192.0Z" fill="#ff0000"/>
<line x1="135.4" y1="187.0" x2="128.6" y2="185.4" stroke="#ff0000" stroke-width="1.0"/>
<path d="M128.0,185.3L131.0,184.8L130.4,187.1Z" fill="#ff0000"/>
<line x1="120.6" y1="105.5" x2="127.1" y2="108.1" stroke="#ff0000" stroke-width="1.0"/>
<path d="M127.7,108.3L124.6,108.4L125.5,106.2Z" fill="#ff0000"/>
<line x1="147.3" y1="90.3" x2="141.2" y2="93.8" stroke="#ff0000" stroke-width="1.0"/>
<path d="M140.7,94.1L142.5,91.7L143.7,93.8Z" fill="#ff0000"/>
<line x1="114.4" y1="87.9" x2="117.4" y2="81.6" stroke="#ff0000" stroke-width="1.0"/>
<path d="M117.7,81.1L117.6,84.1L115.4,83.1Z" fill="#ff0000"/>
<line x1="113.5" y1="103.8" x2="113.0" y2="110.7" stroke="#ff0000" stroke-width="1.0"/>
<path d="M112.9,111.3L112.0,108.5L114.3,108.6Z" fill="#ff0000"/>
<line x1="144.4" y1="203.5" x2="148.5" y2="209.2" stroke="#ff0000" stroke-width="1.0"/>
<path d="M148.8,209.7L146.2,208.1L148.2,206.7Z" fill="#ff0000"/>
<line x1="114.2" y1="90.3" x2="110.2" y2="84.6" stroke="#ff0000" stroke-width="1.0"/>
<path d="M109.8,84.1L112.4,85.7L110.5,87.1Z" fill="#ff0000"/>
<line x1="115.7" y1="209.5" x2="112.8" y2="203.2" stroke="#ff0000" stroke-width="1.0"/>
<path d="M112.5,202.6L114.8,204.7L112.6,205.7Z" fill="#ff0000"/>
<line x1="137.0" y1="85.1" x2="142.9" y2="88.8" stroke="#ff0000" stroke-width="1.0"/>
<path d="M143.4,89.1L140.4,88.6L141.7,86.6Z" fill="#ff0000"/>
<line x1="146.0" y1="106.8" x2="143.7" y2="100.2" stroke="#ff0000" stroke-width="1.0"/>
<path d="M143.5,99.6L145.5,101.9L143.3,102.7Z" fill="#ff0000"/>
<line x1="114.4" y1="101.6" x2="110.0" y2="107.0" stroke="#ff0000" stroke-width="1.0"/>
<path d="M109.6,107.4L110.4,104.5L112.3,106.0Z" fill="#ff0000"/>
<line x1="141.8" y1="188.3" x2="136.4" y2="183.9" stroke="#ff0000" stroke-width="1.0"/>
<path d="M135.9,183.5L138.8,184.4L137.3,186.2Z" fill="#ff0000"/>
<line x1="126.4" y1="186.5" x2="119.6" y2="188.2" stroke="#ff0000" stroke-width="1.0"/>
<path d="M119.1,188.4L121.5,186.5L122.1,188.9Z" fill="#ff0000"/>
<line x1="115.0" y1="92.4" x2="109.0" y2="88.9" stroke="#ff0000" stroke-width="1.0"/>
<path d="M108.5,88.6L111.5,89.0L110.3,91.0Z" fill="#ff0000"/>
<line x1="139.3" y1="206.5" x2="133.0" y2="209.6" stroke="#ff0000" stroke-width="1.0"/>
<path d="M132.4,209.9L134.4,207.6L135.5,209.7Z" fill="#ff0000"/>
<line x1="128.3" y1="106.1" x2="135.3" y2="105.6" stroke="#ff0000" stroke-width="1.0"/>
<path d="M135.9,105.6L133.1,107.0L133.0,104.6Z" fill="#ff0000"/>
<line x1="123.7" y1="186.3" x2="117.3" y2="189.0" stroke="#ff0000" stroke-width="1.0"/>
<path d="M116.7,189.2L118.8,187.0L119.8,189.2Z" fill="#ff0000"/>
<line x1="110.9" y1="194.5" x2="117.7" y2="196.2" stroke="#ff0000" stroke-width="1.0"/>
<path d="M118.2,196.3L115.2,196.8L115.8,194.5Z" fill="#ff0000"/>
<line x1="110.9" y1="199.9" x2="117.7" y2="198.4" stroke="#ff0000" stroke-width="1.0"/>
<path d="M118.3,198.2L115.8,200.0L115.3,197.7Z" fill="#ff0000"/>
<line x1="116.5" y1="87.8" x2="121.9" y2="83.3" stroke="#ff0000" stroke-width="1.0"/>
<path d="M122.4,82.9L121.0,85.6L119.5,83.8Z" fill="#ff0000"/>
<line x1="125.7" y1="86.6" x2="132.7" y2="86.1" stroke="#ff0000" stroke-width="1.0"/>
<path d="M133.3,86.1L130.6,87.4L130.5,85.1Z" fill="#ff0000"/>
<line x1="147.2" y1="95.8" x2="140.2" y2="95.9" stroke="#ff0000" stroke-width="1.0"/>
<path d="M139.6,95.9L142.3,94.6L142.4,97.0Z" fill="#ff0000"/>
<line x1="123.0" y1="105.4" x2="129.9" y2="106.9" stroke="#ff0000" stroke-width="1.0"/>
<path d="M130.5,107.0L127.5,107.6L128.0,105.3Z" fill="#ff0000"/>
<line x1="139.9" y1="84.9" x2="144.8" y2="90.0" stroke="#ff0000" stroke-width="1.0"/>
<path d="M145.2,90.4L142.4,89.2L144.1,87.6Z" fill="#ff0000"/>
<line x1="115.5" y1="95.0" x2="108.6" y2="93.8" stroke="#ff0000" stroke-width="1.0"/>
<path d="M108.0,93.7L110.9,93.0L110.5,95.4Z" fill="#ff0000"/>
<line x1="143.1" y1="197.6" x2="150.1" y2="197.6" stroke="#ff0000" stroke-width="1.0"/>
<path d="M150.7,197.6L147.9,198.8L147.9,196.4Z" fill="#ff0000"/>
<line x1="129.1" y1="86.3" x2="136.0" y2="87.0" stroke="#ff0000" stroke-width="1.0"/>
<path d="M136.6,87.0L133.7,88.0L134.0,85.6Z" fill="#ff0000"/>
<line x1="142.2" y1="107.7" x2="145.3" y2="101.4" stroke="#ff0000" stroke-width="1.0"/>
<path d="M145.5,100.9L145.4,103.9L143.2,102.8Z" fill="#ff0000"/>
<line x1="111.9" y1="206.8" x2="115.7" y2="200.9" stroke="#ff0000" stroke-width="1.0"/>
<path d="M116.0,200.4L115.5,203.4L113.5,202.1Z" fill="#ff0000"/>
<line x1="134.2" y1="85.8" x2="140.7" y2="88.3" stroke="#ff0000" stroke-width="1.0"/>
<path d="M141.3,88.5L138.2,88.6L139.1,86.4Z" fill="#ff0000"/>
<line x1="112.5" y1="186.2" x2="114.4" y2="193.0" stroke="#ff0000" stroke-width="1.0"/>
<path d="M114.6,193.5L112.6,191.2L115.0,190.5Z" fill="#ff0000"/>
<line x1="119.0" y1="208.6" x2="113.7" y2="204.0" stroke="#ff0000" stroke-width="1.0"/>
<path d="M113.3,203.6L116.2,204.5L114.6,206.3Z" fill="#ff0000"/>
<line x1="144.0" y1="191.2" x2="147.6" y2="185.2" stroke="#ff0000" stroke-width="1.0"/>
<path d="M147.9,184.7L147.5,187.8L145.5,186.5Z" fill="#ff0000"/>
<line x1="137.8" y1="188.1" x2="131.2" y2="185.7" stroke="#ff0000" stroke-width="1.0"/>
<path d="M130.6,185.5L133.7,185.3L132.8,187.6Z" fill="#ff0000"/>
<line x1="120.5" y1="186.2" x2="114.7" y2="190.1" stroke="#ff0000" stroke-width="1.0"/>
<path d="M114.2,190.5L115.9,187.9L117.2,189.9Z" fill="#ff0000"/>
<line x1="115.6" y1="96.7" x2="108.8" y2="98.0" stroke="#ff0000" stroke-width="1.0"/>
<path d="M108.2,98.1L110.7,96.4L111.1,98.8Z" fill="#ff0000"/>
<line x1="138.1" y1="106.8" x2="143.8" y2="102.6" stroke="#ff0000" stroke-width="1.0"/>
<path d="M144.2,102.3L142.7,104.9L141.3,103.0Z" fill="#ff0000"/>
<line x1="121.8" y1="208.0" x2="115.6" y2="204.7" stroke="#ff0000" stroke-width="1.0"/>
<path d="M115.1,204.4L118.1,204.7L117.0,206.8Z" fill="#ff0000"/>
<line x1="116.2" y1="104.1" x2="121.4" y2="108.7" stroke="#ff0000" stroke-width="1.0"/>
<path d="M121.9,109.1L119.0,108.2L120.6,106.4Z" fill="#ff0000"/>
<line x1="143.0" y1="199.8" x2="149.4" y2="202.5" stroke="#ff0000" stroke-width="1.0"/>
<path d="M150.0,202.8L146.9,202.8L147.8,200.6Z" fill="#ff0000"/>
<line x1="145.6" y1="86.5" x2="142.6" y2="92.9" stroke="#ff0000" stroke-width="1.0"/>
<path d="M142.3,93.4L142.4,90.4L144.6,91.4Z" fill="#ff0000"/>
<line x1="122.7" y1="87.3" x2="129.5" y2="85.7" stroke="#ff0000" stroke-width="1.0"/>
<path d="M130.1,85.6L127.6,87.4L127.1,85.1Z" fill="#ff0000"/>
<line x1="119.1" y1="87.8" x2="125.5" y2="84.8" stroke="#ff0000" stroke-width="1.0"/>
<path d="M126.0,84.6L124.0,86.8L123.0,84.6Z" fill="#ff0000"/>
<line x1="131.6" y1="86.4" x2="138.5" y2="87.9" stroke="#ff0000" stroke-width="1.0"/>
<path d="M139.1,88.1L136.1,88.6L136.6,86.3Z" fill="#ff0000"/>
<line x1="142.9" y1="194.8" x2="149.3" y2="191.8" stroke="#ff0000" stroke-width="1.0"/>
<path d="M149.8,191.5L147.8,193.8L146.7,191.7Z" fill="#ff0000"/>
<path d="M113.5,84.5 Q127,71 144,83" fill="none" stroke="#fff" stroke-width="0.9" opacity="0.85"/>
<path d="M117.5,85 Q129,76.5 141,84.5" fill="none" stroke="#fff" stroke-width="0.7" opacity="0.6"/>
<path d="M116,109.5 Q129,116 142,109.5" fill="none" stroke="#fff" stroke-width="0.7" opacity="0.6"/>
<path d="M114,184.5 Q129,175 146,184" fill="none" stroke="#fff" stroke-width="0.8" opacity="0.7"/>
<path d="M117,209.5 Q131,217 146,209.5" fill="none" stroke="#fff" stroke-width="0.7" opacity="0.6"/>
<rect x="114.6" y="87.6" width="13.700000000000017" height="17.30000000000001" fill="#ff0000"/>
<rect x="128.3" y="87.6" width="15.799999999999983" height="17.30000000000001" fill="#0000ff"/>
<rect x="114.6" y="87.6" width="29.5" height="17.30000000000001" fill="none" stroke="#5c4a8c" stroke-width="1.1"/>
<text x="122.5" y="101.4" font-family="Liberation Sans, sans-serif" font-weight="bold" font-size="14.3" fill="#fff" text-anchor="middle">N</text>
<text x="136.3" y="101.4" font-family="Liberation Sans, sans-serif" font-weight="bold" font-size="14.3" fill="#fff" text-anchor="middle">S</text>
<rect x="114.0" y="188.1" width="15.599999999999994" height="18.30000000000001" fill="#0000ff"/>
<rect x="129.6" y="188.1" width="14.700000000000017" height="18.30000000000001" fill="#ff0000"/>
<rect x="114.0" y="188.1" width="30.30000000000001" height="18.30000000000001" fill="none" stroke="#5c4a8c" stroke-width="1.1"/>
<text x="122.1" y="202.2" font-family="Liberation Sans, sans-serif" font-weight="bold" font-size="14.3" fill="#fff" text-anchor="middle">S</text>
<text x="136.5" y="202.2" font-family="Liberation Sans, sans-serif" font-weight="bold" font-size="14.3" fill="#fff" text-anchor="middle">N</text>
<g stroke="#0000ff" stroke-width="2.2" fill="none" stroke-linejoin="round">
<path d="M117.2,135.1 H114.4 V137"/>
<path d="M123.1,135.1 H131.7"/>
<path d="M136.4,135.1 H144.3"/>
<path d="M150,135.1 H157"/>
<path d="M114.4,142.9 V150.5"/>
<path d="M114.4,156.3 V163.6 H116.8"/>
<path d="M122.6,163.6 H129.3"/>
<path d="M135.3,163.6 H143.4"/>
<path d="M149.4,163.6 H157"/>
</g>
<g stroke="#000" stroke-width="2" fill="none">
<line x1="30" y1="23" x2="332" y2="23"/>
<path d="M325,18.6 L332.5,23 L325,27.4" stroke-width="1.8"/>
<line x1="158" y1="11.4" x2="158" y2="286.2"/>
<path d="M154,279.6 L158,287.0 L162,279.6" stroke-width="1.9"/>
<line x1="41" y1="16" x2="41" y2="29.8"/>
<line x1="71" y1="16" x2="71" y2="29.8"/>
<line x1="100.3" y1="16" x2="100.3" y2="29.8"/>
<line x1="130.3" y1="16" x2="130.3" y2="29.8"/>
<line x1="187.7" y1="16" x2="187.7" y2="29.8"/>
<line x1="217.1" y1="16" x2="217.1" y2="29.8"/>
<line x1="248" y1="16" x2="248" y2="29.8"/>
<line x1="279" y1="16" x2="279" y2="29.8"/>
<line x1="151" y1="52.6" x2="164.5" y2="52.6"/>
<line x1="151" y1="81.2" x2="164.5" y2="81.2"/>
<line x1="151" y1="111.2" x2="164.5" y2="111.2"/>
<line x1="151" y1="140.7" x2="164.5" y2="140.7"/>
<line x1="151" y1="170.4" x2="164.5" y2="170.4"/>
<line x1="151" y1="200.1" x2="164.5" y2="200.1"/>
<line x1="151" y1="230.2" x2="164.5" y2="230.2"/>
<line x1="151" y1="260.2" x2="164.5" y2="260.2"/>
</g>
<text transform="translate(41.6,12.9) scale(1,1.03)" font-family="Liberation Sans, sans-serif" font-size="14.8" font-weight="bold" font-style="normal" text-anchor="middle" fill="#000">-40</text>
<text transform="translate(71.6,12.9) scale(1,1.03)" font-family="Liberation Sans, sans-serif" font-size="14.8" font-weight="bold" font-style="normal" text-anchor="middle" fill="#000">-30</text>
<text transform="translate(100.9,12.9) scale(1,1.03)" font-family="Liberation Sans, sans-serif" font-size="14.8" font-weight="bold" font-style="normal" text-anchor="middle" fill="#000">-20</text>
<text transform="translate(130.9,12.9) scale(1,1.03)" font-family="Liberation Sans, sans-serif" font-size="14.8" font-weight="bold" font-style="normal" text-anchor="middle" fill="#000">-10</text>
<text transform="translate(164.4,12.9) scale(1,1.03)" font-family="Liberation Sans, sans-serif" font-size="14.8" font-weight="bold" font-style="normal" text-anchor="middle" fill="#000">0</text>
<text transform="translate(187.4,12.9) scale(1,1.03)" font-family="Liberation Sans, sans-serif" font-size="14.8" font-weight="bold" font-style="normal" text-anchor="middle" fill="#000">10</text>
<text transform="translate(216.6,12.9) scale(1,1.03)" font-family="Liberation Sans, sans-serif" font-size="14.8" font-weight="bold" font-style="normal" text-anchor="middle" fill="#000">20</text>
<text transform="translate(247.1,12.9) scale(1,1.03)" font-family="Liberation Sans, sans-serif" font-size="14.8" font-weight="bold" font-style="normal" text-anchor="middle" fill="#000">30</text>
<text transform="translate(278.2,12.9) scale(1,1.03)" font-family="Liberation Sans, sans-serif" font-size="14.8" font-weight="bold" font-style="normal" text-anchor="middle" fill="#000">40</text>
<text transform="translate(180.8,87.3) scale(1,1.03)" font-family="Liberation Sans, sans-serif" font-size="14.8" font-weight="bold" font-style="normal" text-anchor="middle" fill="#000">20</text>
<text transform="translate(178.8,146.0) scale(1,1.03)" font-family="Liberation Sans, sans-serif" font-size="14.8" font-weight="bold" font-style="normal" text-anchor="middle" fill="#000">40</text>
<text transform="translate(179.5,205.6) scale(1,1.03)" font-family="Liberation Sans, sans-serif" font-size="14.8" font-weight="bold" font-style="normal" text-anchor="middle" fill="#000">60</text>
<text transform="translate(181.2,265.6) scale(1,1.03)" font-family="Liberation Sans, sans-serif" font-size="14.8" font-weight="bold" font-style="normal" text-anchor="middle" fill="#000">80</text>
<text transform="translate(296.8,42.8) scale(1,1.0)" font-family="Liberation Sans, sans-serif" font-size="13.8" font-weight="bold" font-style="italic" text-anchor="start" fill="#000">z</text>
<text transform="translate(308.0,42.8) scale(1,0.86)" font-family="Liberation Sans, sans-serif" font-size="14.8" font-weight="bold" font-style="normal" text-anchor="start" fill="#000">(mm)</text>
<text transform="translate(171.6,300.5) rotate(90) scale(1,1.07)" font-family="Liberation Sans, sans-serif" font-size="14.4" font-weight="bold" text-anchor="middle" fill="#000"><tspan font-style="italic">r</tspan> (mm)</text>
<text transform="translate(1.5,82.9) scale(1,1.07)" font-family="Liberation Sans, sans-serif" font-size="14.5" font-weight="bold" font-style="normal" text-anchor="start" fill="#000">Ring-shaped</text>
<text transform="translate(1.3,100.3) scale(1,1.07)" font-family="Liberation Sans, sans-serif" font-size="14.5" font-weight="bold" font-style="normal" text-anchor="start" fill="#000">groove</text>
<g stroke="#000" stroke-width="2.1" fill="none"><line x1="47.7" y1="105.3" x2="109.5" y2="144"/><path d="M106,137.6 L110.3,144.4 L101.2,143.9"/></g>
<rect x="307.2" y="105.00" width="9.4" height="15.80" fill="#ff0000"/>
<rect x="307.2" y="120.80" width="9.4" height="15.80" fill="#ff7800"/>
<rect x="307.2" y="136.60" width="9.4" height="15.80" fill="#ffe000"/>
<rect x="307.2" y="152.40" width="9.4" height="15.80" fill="#aaff00"/>
<rect x="307.2" y="168.20" width="9.4" height="15.80" fill="#38f800"/>
<rect x="307.2" y="184.00" width="9.4" height="15.80" fill="#00f850"/>
<rect x="307.2" y="199.80" width="9.4" height="15.80" fill="#00f2b4"/>
<rect x="307.2" y="215.60" width="9.4" height="15.80" fill="#00e6ff"/>
<rect x="307.2" y="231.40" width="9.4" height="15.80" fill="#0064f4"/>
<rect x="307.2" y="247.20" width="9.4" height="15.80" fill="#0000f0"/>
<rect x="307.2" y="105.0" width="9.4" height="158.0" fill="none" stroke="#333" stroke-width="0.8"/>
<line x1="307.2" y1="105.00" x2="317.8" y2="105.00" stroke="#444" stroke-width="0.6"/>
<line x1="307.2" y1="120.80" x2="316.6" y2="120.80" stroke="#444" stroke-width="0.6"/>
<line x1="307.2" y1="136.60" x2="317.8" y2="136.60" stroke="#444" stroke-width="0.6"/>
<line x1="307.2" y1="152.40" x2="316.6" y2="152.40" stroke="#444" stroke-width="0.6"/>
<line x1="307.2" y1="168.20" x2="317.8" y2="168.20" stroke="#444" stroke-width="0.6"/>
<line x1="307.2" y1="184.00" x2="316.6" y2="184.00" stroke="#444" stroke-width="0.6"/>
<line x1="307.2" y1="199.80" x2="317.8" y2="199.80" stroke="#444" stroke-width="0.6"/>
<line x1="307.2" y1="215.60" x2="316.6" y2="215.60" stroke="#444" stroke-width="0.6"/>
<line x1="307.2" y1="231.40" x2="317.8" y2="231.40" stroke="#444" stroke-width="0.6"/>
<line x1="307.2" y1="247.20" x2="316.6" y2="247.20" stroke="#444" stroke-width="0.6"/>
<line x1="307.2" y1="263.00" x2="317.8" y2="263.00" stroke="#444" stroke-width="0.6"/>
<text transform="translate(319.6,110.4) scale(1.1,1.05)" font-family="Liberation Sans, sans-serif" font-size="15" text-anchor="start" fill="#000">100</text>
<text transform="translate(321.2,143.5) scale(1.1,1.05)" font-family="Liberation Sans, sans-serif" font-size="15" text-anchor="start" fill="#000">80</text>
<text transform="translate(321.2,172.7) scale(1.1,1.05)" font-family="Liberation Sans, sans-serif" font-size="15" text-anchor="start" fill="#000">60</text>
<text transform="translate(321.2,207.2) scale(1.1,1.05)" font-family="Liberation Sans, sans-serif" font-size="15" text-anchor="start" fill="#000">40</text>
<text transform="translate(321.2,236.0) scale(1.1,1.05)" font-family="Liberation Sans, sans-serif" font-size="15" text-anchor="start" fill="#000">20</text>
<text transform="translate(321.2,269.8) scale(1.1,1.05)" font-family="Liberation Sans, sans-serif" font-size="15" text-anchor="start" fill="#000">0</text>
<text transform="translate(315.8,91.8) scale(1,1.0)" font-family="Liberation Sans, sans-serif" font-size="15" font-weight="bold" font-style="normal" text-anchor="start" fill="#000">(mT)</text>
<g stroke="#3c3c3c" stroke-width="1.1" fill="none"><path d="M276,223 H218.6 V279"/></g>
<path d="M283.5,223 L275.5,219.6 L275.5,226.4 Z" fill="#000"/>
<path d="M218.6,286 L215.4,278 L221.8,278 Z" fill="#000"/>
<text transform="translate(267.0,208.6) scale(1,1.0)" font-family="Liberation Sans, sans-serif" font-size="23" font-weight="normal" font-style="italic" text-anchor="start" fill="#000">B</text>
<text transform="translate(282.0,214.3) scale(1,1.0)" font-family="Liberation Sans, sans-serif" font-size="14.5" font-weight="normal" font-style="normal" text-anchor="start" fill="#000">z</text>
<text transform="translate(230.1,285.0) scale(1,1.0)" font-family="Liberation Sans, sans-serif" font-size="23" font-weight="normal" font-style="italic" text-anchor="start" fill="#000">B</text>
<text transform="translate(245.5,290.0) scale(1,1.0)" font-family="Liberation Sans, sans-serif" font-size="14.5" font-weight="normal" font-style="normal" text-anchor="start" fill="#000">r</text>
</svg>
</body></html>
